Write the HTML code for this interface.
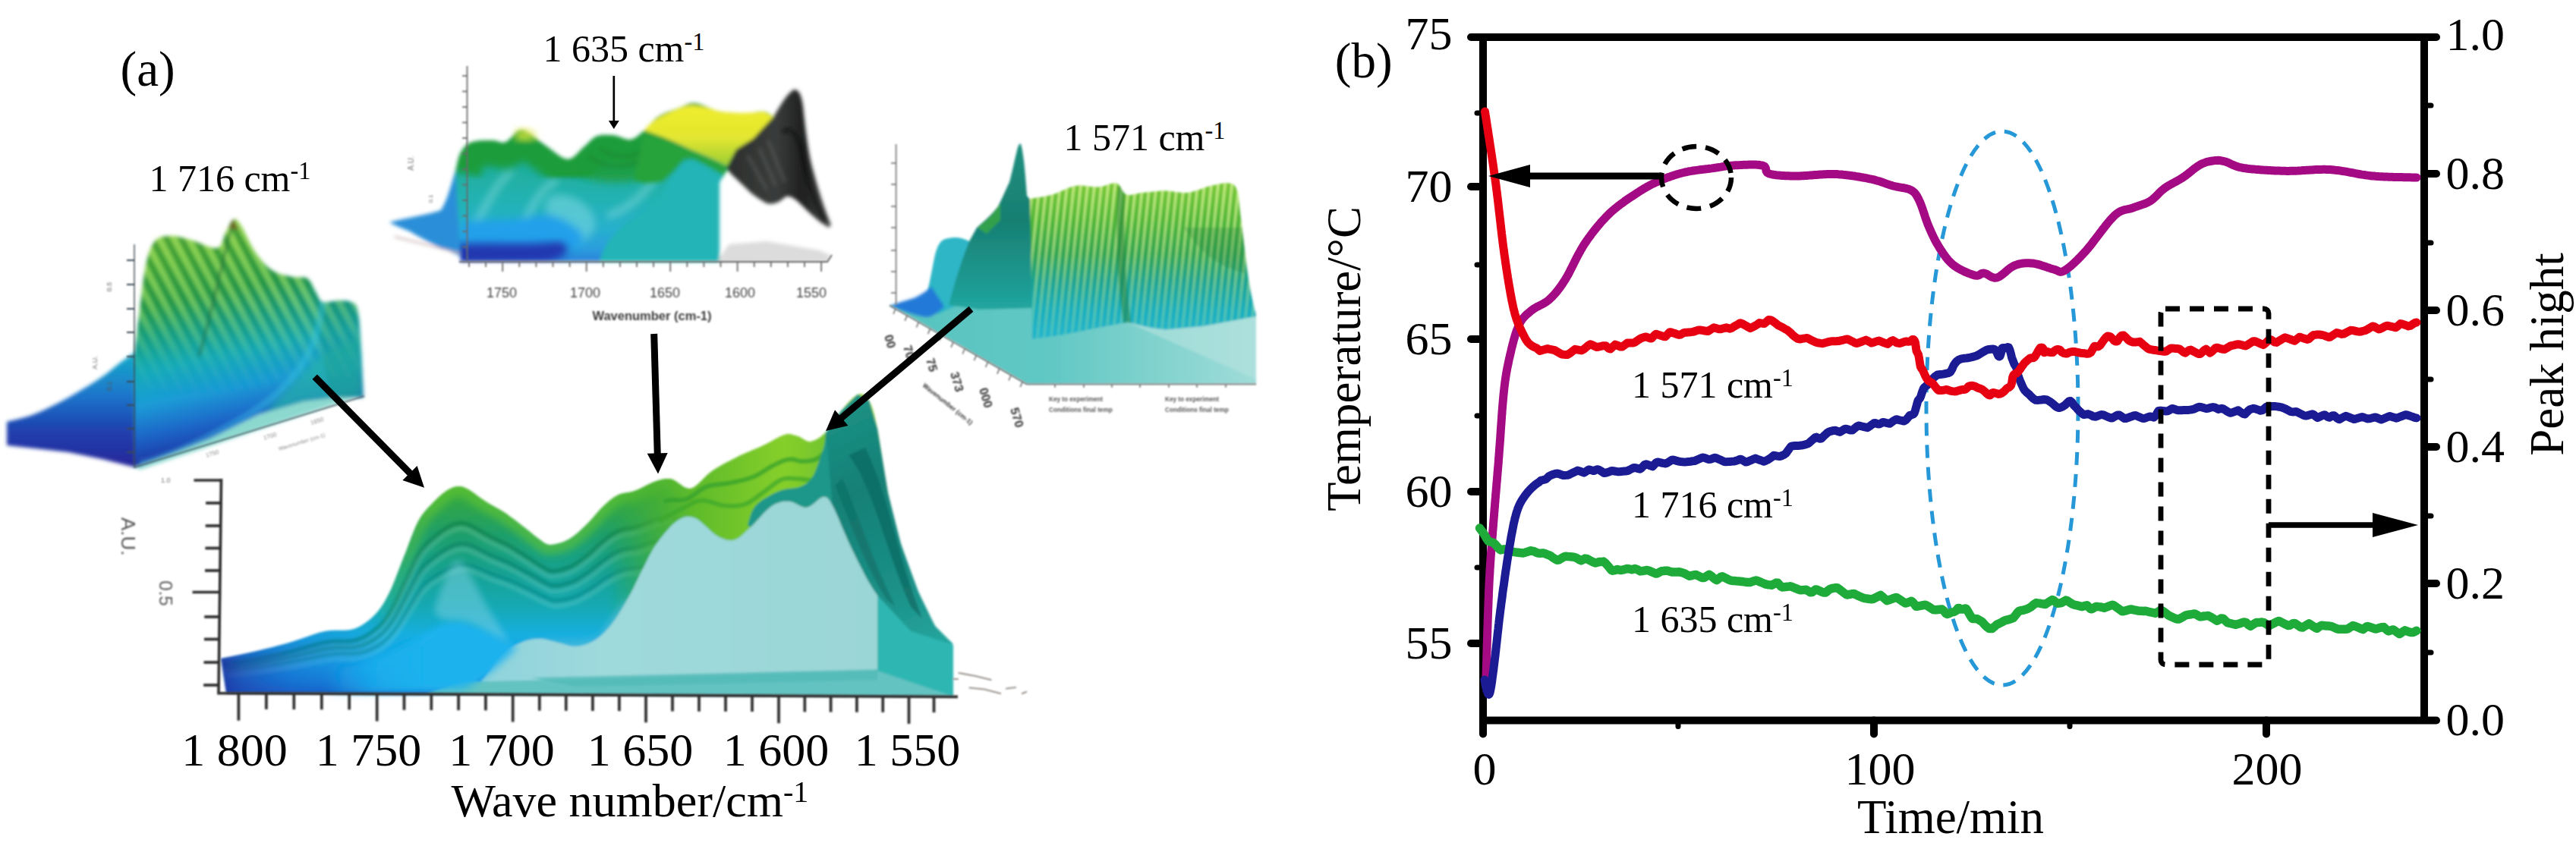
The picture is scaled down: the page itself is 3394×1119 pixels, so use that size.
<!DOCTYPE html>
<html lang="en"><head><meta charset="utf-8"><title>Figure</title>
<style>
html,body{margin:0;padding:0;background:#fff;}
body{width:3394px;height:1119px;overflow:hidden;}
svg{display:block;}
text{font-family:"Liberation Serif", "DejaVu Serif", serif;fill:#000;}
</style></head><body>
<svg width="3394" height="1119" viewBox="0 0 3394 1119">
<defs>
<filter id="bl1" x="-5%" y="-5%" width="110%" height="110%"><feGaussianBlur stdDeviation="1.6"/></filter>
<filter id="bl2" x="-5%" y="-5%" width="110%" height="110%"><feGaussianBlur stdDeviation="2.4"/></filter>
<filter id="bl3" x="-10%" y="-10%" width="120%" height="120%"><feGaussianBlur stdDeviation="5"/></filter>
<filter id="bl8" x="-20%" y="-20%" width="140%" height="140%"><feGaussianBlur stdDeviation="9"/></filter>
<filter id="blt" x="-10%" y="-30%" width="120%" height="160%"><feGaussianBlur stdDeviation="0.9"/></filter>
<linearGradient id="g4" x1="0" y1="560" x2="0" y2="915" gradientUnits="userSpaceOnUse"><stop offset="0.0" stop-color="#8fd12c"/><stop offset="0.12" stop-color="#5dbb2c"/><stop offset="0.24" stop-color="#38a93a"/><stop offset="0.4" stop-color="#1f9f68"/><stop offset="0.55" stop-color="#14a293"/><stop offset="0.68" stop-color="#13a9b5"/><stop offset="0.78" stop-color="#14aee0"/><stop offset="0.88" stop-color="#10a0e6"/><stop offset="0.95" stop-color="#1482da"/><stop offset="1.0" stop-color="#1a62c8"/></linearGradient>
<linearGradient id="g4b" x1="800" y1="0" x2="1110" y2="0" gradientUnits="userSpaceOnUse"><stop offset="0" stop-color="#3aa935" stop-opacity="0"/><stop offset="0.18" stop-color="#48b030" stop-opacity="0.6"/><stop offset="0.35" stop-color="#5cba2c" stop-opacity="1"/><stop offset="0.75" stop-color="#86cf2a" stop-opacity="1"/><stop offset="1" stop-color="#6cc030" stop-opacity="1"/></linearGradient>
<linearGradient id="g4left" x1="288" y1="0" x2="500" y2="0" gradientUnits="userSpaceOnUse"><stop offset="0" stop-color="#1f2f9e" stop-opacity="0.9"/><stop offset="0.15" stop-color="#1f3aa8" stop-opacity="0.6"/><stop offset="0.45" stop-color="#1d50c0" stop-opacity="0.3"/><stop offset="1" stop-color="#1d6fd0" stop-opacity="0"/></linearGradient>
<linearGradient id="g4cy" x1="430" y1="0" x2="570" y2="0" gradientUnits="userSpaceOnUse"><stop offset="0" stop-color="#1cb2ee" stop-opacity="0"/><stop offset="0.5" stop-color="#1cb2ee" stop-opacity="0.6"/><stop offset="1" stop-color="#1cb2ee" stop-opacity="1"/></linearGradient>
<linearGradient id="g4hl" x1="490" y1="0" x2="570" y2="0" gradientUnits="userSpaceOnUse"><stop offset="0" stop-color="#66c92e" stop-opacity="0"/><stop offset="1" stop-color="#66c92e" stop-opacity="1"/></linearGradient>
<linearGradient id="g4wall" x1="640" y1="0" x2="1160" y2="0" gradientUnits="userSpaceOnUse"><stop offset="0" stop-color="#8fd3dc"/><stop offset="0.3" stop-color="#9ed9dc"/><stop offset="1" stop-color="#9bd6d6"/></linearGradient>
<linearGradient id="g4dark" x1="1090" y1="520" x2="1250" y2="860" gradientUnits="userSpaceOnUse"><stop offset="0" stop-color="#1c9486"/><stop offset="0.35" stop-color="#158076"/><stop offset="0.7" stop-color="#1a8f86"/><stop offset="1" stop-color="#26a8a0"/></linearGradient>
<linearGradient id="g1" x1="150" y1="300" x2="215" y2="616" gradientUnits="userSpaceOnUse"><stop offset="0.0" stop-color="#6dbd38"/><stop offset="0.18" stop-color="#4db33a"/><stop offset="0.34" stop-color="#2aa44e"/><stop offset="0.47" stop-color="#17a58c"/><stop offset="0.6" stop-color="#16acbc"/><stop offset="0.74" stop-color="#1a9ad6"/><stop offset="0.86" stop-color="#1c66c8"/><stop offset="0.95" stop-color="#2040ac"/><stop offset="1.0" stop-color="#22309c"/></linearGradient>
<linearGradient id="g1tail" x1="0" y1="470" x2="0" y2="610" gradientUnits="userSpaceOnUse"><stop offset="0" stop-color="#18a7c9"/><stop offset="0.35" stop-color="#1b78cc"/><stop offset="0.7" stop-color="#2040ae"/><stop offset="1" stop-color="#262a9c"/></linearGradient>
<pattern id="st1" width="17" height="17" patternUnits="userSpaceOnUse" patternTransform="rotate(-28)"><rect x="0" y="0" width="7" height="17" fill="#b9e86a" fill-opacity="0.6"/><rect x="9" y="0" width="6" height="17" fill="#146a34" fill-opacity="0.35"/></pattern>
<linearGradient id="m1" x1="0" y1="300" x2="0" y2="520" gradientUnits="userSpaceOnUse"><stop offset="0" stop-color="#fff" stop-opacity="1"/><stop offset="0.45" stop-color="#fff" stop-opacity="0.8"/><stop offset="0.8" stop-color="#fff" stop-opacity="0.15"/><stop offset="1" stop-color="#fff" stop-opacity="0"/></linearGradient>
<mask id="mk1" maskUnits="userSpaceOnUse" x="150" y="280" width="350" height="350"><rect x="150" y="280" width="350" height="350" fill="url(#m1)"/></mask>
<linearGradient id="g2" x1="0" y1="170" x2="0" y2="345" gradientUnits="userSpaceOnUse"><stop offset="0.0" stop-color="#1fa58a"/><stop offset="0.3" stop-color="#1fae9e"/><stop offset="0.55" stop-color="#22b2b4"/><stop offset="0.75" stop-color="#27b0cc"/><stop offset="0.9" stop-color="#2a9ede"/><stop offset="1.0" stop-color="#2a80d8"/></linearGradient>
<linearGradient id="g2dark" x1="950" y1="0" x2="1095" y2="0" gradientUnits="userSpaceOnUse"><stop offset="0" stop-color="#2b2e2c"/><stop offset="0.5" stop-color="#3a3c3b"/><stop offset="0.75" stop-color="#1e1f1f"/><stop offset="1" stop-color="#4a4c4b"/></linearGradient>
<linearGradient id="g2y" x1="0" y1="130" x2="0" y2="225" gradientUnits="userSpaceOnUse"><stop offset="0" stop-color="#f1ee2c"/><stop offset="0.55" stop-color="#e3e630"/><stop offset="1" stop-color="#8cc834"/></linearGradient>
<linearGradient id="g3" x1="0" y1="240" x2="0" y2="450" gradientUnits="userSpaceOnUse"><stop offset="0.0" stop-color="#78c832"/><stop offset="0.25" stop-color="#4bb436"/><stop offset="0.45" stop-color="#2ca352"/><stop offset="0.62" stop-color="#18a391"/><stop offset="0.8" stop-color="#16adbd"/><stop offset="1.0" stop-color="#22b6d0"/></linearGradient>
<pattern id="st3" width="9" height="9" patternUnits="userSpaceOnUse" patternTransform="rotate(6)"><rect x="0" y="0" width="3.4" height="9" fill="#dcf79a" fill-opacity="0.8"/></pattern>
<linearGradient id="m3" x1="0" y1="240" x2="0" y2="450" gradientUnits="userSpaceOnUse"><stop offset="0" stop-color="#fff" stop-opacity="1"/><stop offset="0.4" stop-color="#fff" stop-opacity="0.75"/><stop offset="0.75" stop-color="#fff" stop-opacity="0.45"/><stop offset="1" stop-color="#fff" stop-opacity="0.25"/></linearGradient>
<mask id="mk3" maskUnits="userSpaceOnUse" x="1340" y="220" width="330" height="240"><rect x="1340" y="220" width="330" height="240" fill="url(#m3)"/></mask>
<linearGradient id="g3floor" x1="1170" y1="0" x2="1655" y2="0" gradientUnits="userSpaceOnUse"><stop offset="0" stop-color="#55c3bf"/><stop offset="0.45" stop-color="#62c8c4"/><stop offset="1" stop-color="#9fdcd8"/></linearGradient>
<linearGradient id="g3dk" x1="0" y1="190" x2="0" y2="440" gradientUnits="userSpaceOnUse"><stop offset="0" stop-color="#1d8f7e"/><stop offset="0.4" stop-color="#187f72"/><stop offset="0.8" stop-color="#1d9f98"/><stop offset="1" stop-color="#2ab3b0"/></linearGradient>
</defs>
<g id="panelA">
<g filter="url(#bl1)">
<path d="M291.0 868.0 L295.6 867.1 L302.0 865.8 L309.6 864.2 L317.8 862.6 L326.1 860.8 L334.0 859.0 L341.6 857.2 L349.4 855.3 L357.2 853.4 L365.2 851.3 L373.1 849.2 L381.0 847.0 L388.9 844.5 L397.0 841.8 L405.1 838.9 L413.0 836.2 L420.7 833.8 L428.0 832.0 L435.0 831.0 L441.7 830.7 L448.2 830.8 L454.4 830.7 L460.3 830.3 L466.0 829.0 L471.3 826.9 L476.4 824.2 L481.2 821.1 L485.7 817.7 L490.0 813.9 L494.0 810.0 L497.7 806.0 L501.0 801.7 L504.1 797.2 L507.0 792.4 L509.9 787.0 L513.0 781.0 L516.2 774.2 L519.3 766.7 L522.5 758.6 L525.7 750.3 L528.8 742.0 L532.0 734.0 L535.2 725.9 L538.3 717.5 L541.5 709.1 L544.7 701.0 L547.8 693.5 L551.0 687.0 L554.2 681.6 L557.4 677.0 L560.6 673.1 L563.7 669.6 L566.9 666.3 L570.0 663.0 L573.1 659.8 L576.2 656.7 L579.2 653.9 L582.3 651.3 L585.2 649.0 L588.0 647.0 L590.7 645.3 L593.3 643.9 L595.8 642.8 L598.2 641.9 L600.6 641.3 L603.0 641.0 L605.3 640.9 L607.4 641.1 L609.5 641.6 L611.7 642.4 L614.2 643.5 L617.0 645.0 L620.3 647.0 L624.0 649.5 L627.9 652.4 L631.9 655.4 L636.0 658.3 L640.0 661.0 L644.0 663.4 L648.0 665.7 L652.0 667.9 L656.0 670.2 L660.0 672.5 L664.0 675.0 L667.9 677.6 L671.7 680.4 L675.5 683.2 L679.3 686.1 L683.1 689.0 L687.0 692.0 L691.1 695.2 L695.3 698.6 L699.6 702.1 L703.7 705.5 L707.6 708.5 L711.0 711.0 L713.8 713.0 L716.0 714.7 L718.0 716.1 L720.0 717.1 L722.2 717.8 L725.0 718.0 L728.4 717.8 L732.3 717.1 L736.4 716.1 L740.7 714.7 L744.9 713.0 L749.0 711.0 L752.9 708.6 L756.7 705.8 L760.5 702.7 L764.3 699.3 L768.1 695.7 L772.0 692.0 L776.0 687.9 L780.1 683.4 L784.2 678.7 L788.3 674.0 L792.3 669.7 L796.0 666.0 L799.4 662.9 L802.6 660.1 L805.7 657.7 L808.7 655.6 L811.8 653.7 L815.0 652.0 L818.3 650.7 L821.6 650.0 L824.9 649.4 L828.3 648.9 L832.0 648.2 L836.0 647.0 L840.5 645.2 L845.4 642.9 L850.6 640.3 L855.7 637.8 L860.6 635.6 L865.0 634.0 L868.8 632.8 L872.1 631.9 L875.2 631.2 L878.3 630.9 L881.5 631.0 L885.0 631.6 L888.8 633.2 L892.9 635.9 L897.0 639.1 L901.3 641.9 L905.6 643.8 L910.0 644.0 L914.4 642.2 L918.9 638.8 L923.4 634.5 L928.1 629.7 L933.0 625.0 L938.0 621.0 L943.3 617.6 L948.9 614.2 L954.6 611.0 L960.4 607.9 L966.3 604.9 L972.0 602.0 L977.7 599.3 L983.6 596.7 L989.4 594.2 L995.1 591.8 L1000.7 589.4 L1006.0 587.0 L1011.1 584.4 L1016.2 581.7 L1021.1 578.9 L1025.7 576.4 L1030.0 574.4 L1034.0 573.0 L1037.5 572.3 L1040.5 572.3 L1043.2 572.7 L1045.7 573.4 L1048.3 574.2 L1051.0 575.0 L1053.8 576.1 L1056.6 577.7 L1059.3 579.4 L1062.1 580.9 L1065.0 581.9 L1068.0 582.0 L1071.2 581.3 L1074.4 580.0 L1077.8 578.2 L1081.2 575.9 L1084.6 573.1 L1088.0 570.0 L1091.3 566.2 L1094.6 561.6 L1097.9 556.6 L1101.2 551.5 L1104.6 546.5 L1108.0 542.0 L1111.6 537.6 L1115.4 533.1 L1119.3 528.8 L1123.1 524.9 L1126.7 521.9 L1130.0 520.0 L1133.0 519.3 L1135.7 519.4 L1138.2 520.3 L1140.6 522.1 L1142.8 524.6 L1145.0 528.0 L1147.0 531.9 L1148.9 536.4 L1150.6 541.7 L1152.3 548.0 L1154.0 555.7 L1156.0 565.0 L1158.1 576.6 L1160.3 590.4 L1162.6 605.6 L1165.0 621.2 L1167.5 636.3 L1170.0 650.0 L1172.6 662.3 L1175.2 673.8 L1177.9 684.9 L1180.8 695.6 L1183.8 706.3 L1187.0 717.0 L1190.5 727.9 L1194.3 739.0 L1198.2 749.9 L1202.2 760.5 L1206.2 770.6 L1210.0 780.0 L1213.7 788.8 L1217.4 797.1 L1221.0 805.0 L1224.6 812.3 L1228.3 819.0 L1232.0 825.0 L1236.0 830.4 L1240.4 835.1 L1244.9 839.3 L1249.0 842.9 L1252.5 845.8 L1255.0 848.0 L1256 918 L298 913.5 Z" fill="url(#g4)"/>
<clipPath id="cp4b"><path d="M291.0 868.0 L295.6 867.1 L302.0 865.8 L309.6 864.2 L317.8 862.6 L326.1 860.8 L334.0 859.0 L341.6 857.2 L349.4 855.3 L357.2 853.4 L365.2 851.3 L373.1 849.2 L381.0 847.0 L388.9 844.5 L397.0 841.8 L405.1 838.9 L413.0 836.2 L420.7 833.8 L428.0 832.0 L435.0 831.0 L441.7 830.7 L448.2 830.8 L454.4 830.7 L460.3 830.3 L466.0 829.0 L471.3 826.9 L476.4 824.2 L481.2 821.1 L485.7 817.7 L490.0 813.9 L494.0 810.0 L497.7 806.0 L501.0 801.7 L504.1 797.2 L507.0 792.4 L509.9 787.0 L513.0 781.0 L516.2 774.2 L519.3 766.7 L522.5 758.6 L525.7 750.3 L528.8 742.0 L532.0 734.0 L535.2 725.9 L538.3 717.5 L541.5 709.1 L544.7 701.0 L547.8 693.5 L551.0 687.0 L554.2 681.6 L557.4 677.0 L560.6 673.1 L563.7 669.6 L566.9 666.3 L570.0 663.0 L573.1 659.8 L576.2 656.7 L579.2 653.9 L582.3 651.3 L585.2 649.0 L588.0 647.0 L590.7 645.3 L593.3 643.9 L595.8 642.8 L598.2 641.9 L600.6 641.3 L603.0 641.0 L605.3 640.9 L607.4 641.1 L609.5 641.6 L611.7 642.4 L614.2 643.5 L617.0 645.0 L620.3 647.0 L624.0 649.5 L627.9 652.4 L631.9 655.4 L636.0 658.3 L640.0 661.0 L644.0 663.4 L648.0 665.7 L652.0 667.9 L656.0 670.2 L660.0 672.5 L664.0 675.0 L667.9 677.6 L671.7 680.4 L675.5 683.2 L679.3 686.1 L683.1 689.0 L687.0 692.0 L691.1 695.2 L695.3 698.6 L699.6 702.1 L703.7 705.5 L707.6 708.5 L711.0 711.0 L713.8 713.0 L716.0 714.7 L718.0 716.1 L720.0 717.1 L722.2 717.8 L725.0 718.0 L728.4 717.8 L732.3 717.1 L736.4 716.1 L740.7 714.7 L744.9 713.0 L749.0 711.0 L752.9 708.6 L756.7 705.8 L760.5 702.7 L764.3 699.3 L768.1 695.7 L772.0 692.0 L776.0 687.9 L780.1 683.4 L784.2 678.7 L788.3 674.0 L792.3 669.7 L796.0 666.0 L799.4 662.9 L802.6 660.1 L805.7 657.7 L808.7 655.6 L811.8 653.7 L815.0 652.0 L818.3 650.7 L821.6 650.0 L824.9 649.4 L828.3 648.9 L832.0 648.2 L836.0 647.0 L840.5 645.2 L845.4 642.9 L850.6 640.3 L855.7 637.8 L860.6 635.6 L865.0 634.0 L868.8 632.8 L872.1 631.9 L875.2 631.2 L878.3 630.9 L881.5 631.0 L885.0 631.6 L888.8 633.2 L892.9 635.9 L897.0 639.1 L901.3 641.9 L905.6 643.8 L910.0 644.0 L914.4 642.2 L918.9 638.8 L923.4 634.5 L928.1 629.7 L933.0 625.0 L938.0 621.0 L943.3 617.6 L948.9 614.2 L954.6 611.0 L960.4 607.9 L966.3 604.9 L972.0 602.0 L977.7 599.3 L983.6 596.7 L989.4 594.2 L995.1 591.8 L1000.7 589.4 L1006.0 587.0 L1011.1 584.4 L1016.2 581.7 L1021.1 578.9 L1025.7 576.4 L1030.0 574.4 L1034.0 573.0 L1037.5 572.3 L1040.5 572.3 L1043.2 572.7 L1045.7 573.4 L1048.3 574.2 L1051.0 575.0 L1053.8 576.1 L1056.6 577.7 L1059.3 579.4 L1062.1 580.9 L1065.0 581.9 L1068.0 582.0 L1071.2 581.3 L1074.4 580.0 L1077.8 578.2 L1081.2 575.9 L1084.6 573.1 L1088.0 570.0 L1091.3 566.2 L1094.6 561.6 L1097.9 556.6 L1101.2 551.5 L1104.6 546.5 L1108.0 542.0 L1111.6 537.6 L1115.4 533.1 L1119.3 528.8 L1123.1 524.9 L1126.7 521.9 L1130.0 520.0 L1133.0 519.3 L1135.7 519.4 L1138.2 520.3 L1140.6 522.1 L1142.8 524.6 L1145.0 528.0 L1147.0 531.9 L1148.9 536.4 L1150.6 541.7 L1152.3 548.0 L1154.0 555.7 L1156.0 565.0 L1158.1 576.6 L1160.3 590.4 L1162.6 605.6 L1165.0 621.2 L1167.5 636.3 L1170.0 650.0 L1172.6 662.3 L1175.2 673.8 L1177.9 684.9 L1180.8 695.6 L1183.8 706.3 L1187.0 717.0 L1190.5 727.9 L1194.3 739.0 L1198.2 749.9 L1202.2 760.5 L1206.2 770.6 L1210.0 780.0 L1213.7 788.8 L1217.4 797.1 L1221.0 805.0 L1224.6 812.3 L1228.3 819.0 L1232.0 825.0 L1236.0 830.4 L1240.4 835.1 L1244.9 839.3 L1249.0 842.9 L1252.5 845.8 L1255.0 848.0 L1256 918 L298 913.5 Z"/></clipPath>
<g clip-path="url(#cp4b)">
<path d="M494.0 810.0 L496.1 807.1 L498.9 803.1 L502.3 798.4 L506.0 793.1 L509.6 787.2 L513.0 781.0 L516.2 774.2 L519.3 766.7 L522.5 758.6 L525.7 750.3 L528.8 742.0 L532.0 734.0 L535.2 725.9 L538.3 717.5 L541.5 709.1 L544.7 701.0 L547.8 693.5 L551.0 687.0 L554.2 681.6 L557.4 677.0 L560.6 673.1 L563.7 669.6 L566.9 666.3 L570.0 663.0 L573.1 659.8 L576.2 656.7 L579.2 653.9 L582.3 651.3 L585.2 649.0 L588.0 647.0 L590.7 645.3 L593.3 643.9 L595.8 642.8 L598.2 641.9 L600.6 641.3 L603.0 641.0 L605.3 640.9 L607.4 641.1 L609.5 641.6 L611.7 642.4 L614.2 643.5 L617.0 645.0 L620.3 647.0 L624.0 649.5 L627.9 652.4 L631.9 655.4 L636.0 658.3 L640.0 661.0 L644.0 663.4 L648.0 665.7 L652.0 667.9 L656.0 670.2 L660.0 672.5 L664.0 675.0 L667.9 677.6 L671.7 680.4 L675.5 683.2 L679.3 686.1 L683.1 689.0 L687.0 692.0 L691.1 695.2 L695.3 698.6 L699.6 702.1 L703.7 705.5 L707.6 708.5 L711.0 711.0 L713.8 713.0 L716.0 714.7 L718.0 716.1 L720.0 717.1 L722.2 717.8 L725.0 718.0 L728.4 717.8 L732.3 717.1 L736.4 716.1 L740.7 714.7 L744.9 713.0 L749.0 711.0 L752.9 708.6 L756.7 705.8 L760.5 702.7 L764.3 699.3 L768.1 695.7 L772.0 692.0 L776.0 687.9 L780.1 683.4 L784.2 678.7 L788.3 674.0 L792.3 669.7 L796.0 666.0 L799.4 662.9 L802.6 660.1 L805.7 657.7 L808.7 655.6 L811.8 653.7 L815.0 652.0 L818.3 650.7 L821.6 650.0 L824.9 649.4 L828.3 648.9 L832.0 648.2 L836.0 647.0 L840.5 645.2 L845.4 642.9 L850.6 640.3 L855.7 637.8 L860.6 635.6 L865.0 634.0 L868.8 632.8 L872.1 631.9 L875.2 631.2 L878.3 630.9 L881.5 631.0 L885.0 631.6 L888.8 633.2 L892.9 635.9 L897.0 639.1 L901.3 641.9 L905.6 643.8 L910.0 644.0 L914.4 642.2 L918.9 638.8 L923.4 634.5 L928.1 629.7 L933.0 625.0 L938.0 621.0 L943.3 617.6 L948.9 614.2 L954.6 611.0 L960.4 607.9 L966.3 604.9 L972.0 602.0 L977.7 599.3 L983.6 596.7 L989.4 594.2 L995.1 591.8 L1000.7 589.4 L1006.0 587.0 L1011.1 584.4 L1016.2 581.7 L1021.1 578.9 L1025.7 576.4 L1030.0 574.4 L1034.0 573.0 L1037.5 572.3 L1040.5 572.3 L1043.2 572.7 L1045.7 573.4 L1048.3 574.2 L1051.0 575.0 L1053.8 576.1 L1056.6 577.7 L1059.3 579.4 L1062.1 580.9 L1065.0 581.9 L1068.0 582.0 L1071.4 581.0 L1075.2 579.0 L1079.1 576.4 L1082.7 573.8 L1085.8 571.5 L1088.0 570.0" fill="none" stroke="url(#g4hl)" stroke-opacity="0.55" stroke-width="26" filter="url(#bl3)"/>
<path d="M294.0 875.9 L298.6 875.1 L305.0 874.1 L312.6 872.8 L320.8 871.5 L329.1 870.0 L337.0 868.5 L344.6 867.1 L352.4 865.5 L360.2 863.9 L368.2 862.3 L376.1 860.5 L384.0 858.7 L391.9 856.7 L400.0 854.4 L408.1 852.1 L416.0 849.9 L423.7 847.9 L431.0 846.4 L438.0 845.6 L444.7 845.3 L451.2 845.4 L457.4 845.4 L463.3 845.0 L469.0 843.9 L474.3 842.2 L479.4 840.0 L484.2 837.5 L488.7 834.6 L493.0 831.6 L497.0 828.4 L500.7 825.0 L504.0 821.6 L507.1 817.9 L510.0 813.9 L512.9 809.5 L516.0 804.6 L519.2 799.0 L522.3 792.8 L525.5 786.2 L528.7 779.4 L531.8 772.6 L535.0 766.0 L538.2 759.4 L541.3 752.5 L544.5 745.6 L547.7 738.9 L550.8 732.8 L554.0 727.5 L557.2 723.1 L560.4 719.3 L563.6 716.1 L566.7 713.2 L569.9 710.5 L573.0 707.8 L576.1 705.2 L579.2 702.7 L582.2 700.3 L585.3 698.2 L588.2 696.3 L591.0 694.7 L593.7 693.3 L596.3 692.1 L598.8 691.2 L601.2 690.5 L603.6 690.0 L606.0 689.8 L608.3 689.7 L610.4 689.9 L612.5 690.3 L614.7 690.9 L617.2 691.8 L620.0 693.1 L623.3 694.7 L627.0 696.8 L630.9 699.1 L634.9 701.6 L639.0 704.0 L643.0 706.2 L647.0 708.2 L651.0 710.0 L655.0 711.9 L659.0 713.7 L663.0 715.6 L667.0 717.7 L670.9 719.8 L674.7 722.1 L678.5 724.4 L682.3 726.7 L686.1 729.2 L690.0 731.6 L694.1 734.2 L698.3 737.0 L702.6 739.9 L706.7 742.7 L710.6 745.1 L714.0 747.2 L716.8 748.8 L719.0 750.2 L721.0 751.4 L723.0 752.2 L725.2 752.7 L728.0 752.9 L731.4 752.7 L735.3 752.2 L739.4 751.4 L743.7 750.2 L747.9 748.8 L752.0 747.2 L755.9 745.2 L759.7 742.9 L763.5 740.4 L767.3 737.6 L771.1 734.6 L775.0 731.6 L779.0 728.3 L783.1 724.6 L787.2 720.7 L791.3 716.9 L795.3 713.3 L799.0 710.3 L802.4 707.7 L805.6 705.5 L808.7 703.5 L811.7 701.7 L814.8 700.2 L818.0 698.8 L821.3 697.8 L824.6 697.1 L827.9 696.7 L831.3 696.3 L835.0 695.7 L839.0 694.7 L843.5 693.2 L848.4 691.3 L853.6 689.2 L858.7 687.2 L863.6 685.4 L868.0 684.0 L871.8 683.1 L875.1 682.3 L878.2 681.8 L881.3 681.5 L884.5 681.6 L888.0 682.1 L891.8 683.4 L895.9 685.6 L900.0 688.2 L904.3 690.6 L908.6 692.1 L913.0 692.2 L917.4 690.7 L921.9 688.0 L926.4 684.4 L931.1 680.5 L936.0 676.7 L941.0 673.4 L946.3 670.6 L951.9 667.8 L957.6 665.2 L963.4 662.6 L969.3 660.2 L975.0 657.8 L980.7 655.6 L986.6 653.4 L992.4 651.4 L998.1 649.4 L1003.7 647.5 L1009.0 645.5 L1014.1 643.4 L1019.2 641.1 L1024.1 638.9 L1028.7 636.8 L1033.0 635.2 L1037.0 634.0 L1040.5 633.5 L1043.5 633.4 L1046.2 633.8 L1048.7 634.3 L1051.3 635.0 L1054.0 635.7 L1056.8 636.6 L1059.6 637.8 L1062.3 639.2 L1065.1 640.5 L1068.0 641.3 L1071.0 641.4 L1074.4 640.5 L1078.2 638.9 L1082.1 636.8 L1085.7 634.7 L1088.8 632.8 L1091.0 631.6" fill="none" stroke="#0b6a3c" stroke-opacity="0.42" stroke-width="6.0" filter="url(#bl1)"/>
<path d="M294.0 882.9 L298.6 882.1 L305.0 881.1 L312.6 879.8 L320.8 878.5 L329.1 877.0 L337.0 875.5 L344.6 874.1 L352.4 872.5 L360.2 870.9 L368.2 869.3 L376.1 867.5 L384.0 865.7 L391.9 863.7 L400.0 861.4 L408.1 859.1 L416.0 856.9 L423.7 854.9 L431.0 853.4 L438.0 852.6 L444.7 852.3 L451.2 852.4 L457.4 852.4 L463.3 852.0 L469.0 850.9 L474.3 849.2 L479.4 847.0 L484.2 844.5 L488.7 841.6 L493.0 838.6 L497.0 835.4 L500.7 832.0 L504.0 828.6 L507.1 824.9 L510.0 820.9 L512.9 816.5 L516.0 811.6 L519.2 806.0 L522.3 799.8 L525.5 793.2 L528.7 786.4 L531.8 779.6 L535.0 773.0 L538.2 766.4 L541.3 759.5 L544.5 752.6 L547.7 745.9 L550.8 739.8 L554.0 734.5 L557.2 730.1 L560.4 726.3 L563.6 723.1 L566.7 720.2 L569.9 717.5 L573.0 714.8 L576.1 712.2 L579.2 709.7 L582.2 707.3 L585.3 705.2 L588.2 703.3 L591.0 701.7 L593.7 700.3 L596.3 699.1 L598.8 698.2 L601.2 697.5 L603.6 697.0 L606.0 696.8 L608.3 696.7 L610.4 696.9 L612.5 697.3 L614.7 697.9 L617.2 698.8 L620.0 700.1 L623.3 701.7 L627.0 703.8 L630.9 706.1 L634.9 708.6 L639.0 711.0 L643.0 713.2 L647.0 715.2 L651.0 717.0 L655.0 718.9 L659.0 720.7 L663.0 722.6 L667.0 724.7 L670.9 726.8 L674.7 729.1 L678.5 731.4 L682.3 733.7 L686.1 736.2 L690.0 738.6 L694.1 741.2 L698.3 744.0 L702.6 746.9 L706.7 749.7 L710.6 752.1 L714.0 754.2 L716.8 755.8 L719.0 757.2 L721.0 758.4 L723.0 759.2 L725.2 759.7 L728.0 759.9 L731.4 759.7 L735.3 759.2 L739.4 758.4 L743.7 757.2 L747.9 755.8 L752.0 754.2 L755.9 752.2 L759.7 749.9 L763.5 747.4 L767.3 744.6 L771.1 741.6 L775.0 738.6 L779.0 735.3 L783.1 731.6 L787.2 727.7 L791.3 723.9 L795.3 720.3 L799.0 717.3 L802.4 714.7 L805.6 712.5 L808.7 710.5 L811.7 708.7 L814.8 707.2 L818.0 705.8 L821.3 704.8 L824.6 704.1 L827.9 703.7 L831.3 703.3 L835.0 702.7 L839.0 701.7 L843.5 700.2 L848.4 698.3 L853.6 696.2 L858.7 694.2 L863.6 692.4 L868.0 691.0 L871.8 690.1 L875.1 689.3 L878.2 688.8 L881.3 688.5 L884.5 688.6 L888.0 689.1 L891.8 690.4 L895.9 692.6 L900.0 695.2 L904.3 697.6 L908.6 699.1 L913.0 699.2 L917.4 697.7 L921.9 695.0 L926.4 691.4 L931.1 687.5 L936.0 683.7 L941.0 680.4 L946.3 677.6 L951.9 674.8 L957.6 672.2 L963.4 669.6 L969.3 667.2 L975.0 664.8 L980.7 662.6 L986.6 660.4 L992.4 658.4 L998.1 656.4 L1003.7 654.5 L1009.0 652.5 L1014.1 650.4 L1019.2 648.1 L1024.1 645.9 L1028.7 643.8 L1033.0 642.2 L1037.0 641.0 L1040.5 640.5 L1043.5 640.4 L1046.2 640.8 L1048.7 641.3 L1051.3 642.0 L1054.0 642.7 L1056.8 643.6 L1059.6 644.8 L1062.3 646.2 L1065.1 647.5 L1068.0 648.3 L1071.0 648.4 L1074.4 647.5 L1078.2 645.9 L1082.1 643.8 L1085.7 641.7 L1088.8 639.8 L1091.0 638.6" fill="none" stroke="#c8f4e8" stroke-opacity="0.16" stroke-width="7" filter="url(#bl1)"/>
<path d="M296.0 880.3 L300.6 879.6 L307.0 878.7 L314.6 877.6 L322.8 876.4 L331.1 875.1 L339.0 873.8 L346.6 872.6 L354.4 871.2 L362.2 869.8 L370.2 868.3 L378.1 866.8 L386.0 865.2 L393.9 863.4 L402.0 861.4 L410.1 859.4 L418.0 857.4 L425.7 855.7 L433.0 854.4 L440.0 853.7 L446.7 853.5 L453.2 853.5 L459.4 853.5 L465.3 853.2 L471.0 852.2 L476.3 850.7 L481.4 848.8 L486.2 846.6 L490.7 844.1 L495.0 841.4 L499.0 838.6 L502.7 835.6 L506.0 832.6 L509.1 829.4 L512.0 825.9 L514.9 822.0 L518.0 817.7 L521.2 812.8 L524.3 807.4 L527.5 801.6 L530.7 795.6 L533.8 789.6 L537.0 783.8 L540.2 778.0 L543.3 771.9 L546.5 765.9 L549.7 760.1 L552.8 754.7 L556.0 750.0 L559.2 746.1 L562.4 742.8 L565.6 740.0 L568.7 737.4 L571.9 735.1 L575.0 732.7 L578.1 730.4 L581.2 728.2 L584.2 726.1 L587.3 724.3 L590.2 722.6 L593.0 721.2 L595.7 720.0 L598.3 719.0 L600.8 718.1 L603.2 717.5 L605.6 717.1 L608.0 716.9 L610.3 716.8 L612.4 717.0 L614.5 717.3 L616.7 717.9 L619.2 718.7 L622.0 719.8 L625.3 721.2 L629.0 723.0 L632.9 725.1 L636.9 727.2 L641.0 729.3 L645.0 731.3 L649.0 733.0 L653.0 734.7 L657.0 736.3 L661.0 737.9 L665.0 739.6 L669.0 741.4 L672.9 743.3 L676.7 745.2 L680.5 747.3 L684.3 749.3 L688.1 751.5 L692.0 753.6 L696.1 755.9 L700.3 758.4 L704.6 760.9 L708.7 763.3 L712.6 765.5 L716.0 767.3 L718.8 768.7 L721.0 770.0 L723.0 771.0 L725.0 771.7 L727.2 772.2 L730.0 772.3 L733.4 772.2 L737.3 771.7 L741.4 771.0 L745.7 770.0 L749.9 768.7 L754.0 767.3 L757.9 765.6 L761.7 763.5 L765.5 761.3 L769.3 758.9 L773.1 756.3 L777.0 753.6 L781.0 750.7 L785.1 747.4 L789.2 744.0 L793.3 740.7 L797.3 737.6 L801.0 734.9 L804.4 732.6 L807.6 730.6 L810.7 728.9 L813.7 727.4 L816.8 726.0 L820.0 724.8 L823.3 723.9 L826.6 723.3 L829.9 723.0 L833.3 722.6 L837.0 722.1 L841.0 721.2 L845.5 719.9 L850.4 718.2 L855.6 716.4 L860.7 714.6 L865.6 713.0 L870.0 711.8 L873.8 711.0 L877.1 710.3 L880.2 709.8 L883.3 709.6 L886.5 709.7 L890.0 710.1 L893.8 711.3 L897.9 713.2 L902.0 715.5 L906.3 717.6 L910.6 718.9 L915.0 719.0 L919.4 717.7 L923.9 715.3 L928.4 712.2 L933.1 708.7 L938.0 705.4 L943.0 702.5 L948.3 700.0 L953.9 697.6 L959.6 695.3 L965.4 693.0 L971.3 690.9 L977.0 688.8 L982.7 686.8 L988.6 685.0 L994.4 683.2 L1000.1 681.4 L1005.7 679.7 L1011.0 678.0 L1016.1 676.1 L1021.2 674.2 L1026.1 672.2 L1030.7 670.4 L1035.0 668.9 L1039.0 667.9 L1042.5 667.5 L1045.5 667.4 L1048.2 667.7 L1050.7 668.2 L1053.3 668.8 L1056.0 669.4 L1058.8 670.1 L1061.6 671.3 L1064.3 672.5 L1067.1 673.6 L1070.0 674.3 L1073.0 674.4 L1076.4 673.7 L1080.2 672.2 L1084.1 670.4 L1087.7 668.5 L1090.8 666.9 L1093.0 665.8" fill="none" stroke="#0a705a" stroke-opacity="0.42" stroke-width="6.0" filter="url(#bl1)"/>
<path d="M296.0 887.3 L300.6 886.6 L307.0 885.7 L314.6 884.6 L322.8 883.4 L331.1 882.1 L339.0 880.8 L346.6 879.6 L354.4 878.2 L362.2 876.8 L370.2 875.3 L378.1 873.8 L386.0 872.2 L393.9 870.4 L402.0 868.4 L410.1 866.4 L418.0 864.4 L425.7 862.7 L433.0 861.4 L440.0 860.7 L446.7 860.5 L453.2 860.5 L459.4 860.5 L465.3 860.2 L471.0 859.2 L476.3 857.7 L481.4 855.8 L486.2 853.6 L490.7 851.1 L495.0 848.4 L499.0 845.6 L502.7 842.6 L506.0 839.6 L509.1 836.4 L512.0 832.9 L514.9 829.0 L518.0 824.7 L521.2 819.8 L524.3 814.4 L527.5 808.6 L530.7 802.6 L533.8 796.6 L537.0 790.8 L540.2 785.0 L543.3 778.9 L546.5 772.9 L549.7 767.1 L552.8 761.7 L556.0 757.0 L559.2 753.1 L562.4 749.8 L565.6 747.0 L568.7 744.4 L571.9 742.1 L575.0 739.7 L578.1 737.4 L581.2 735.2 L584.2 733.1 L587.3 731.3 L590.2 729.6 L593.0 728.2 L595.7 727.0 L598.3 726.0 L600.8 725.1 L603.2 724.5 L605.6 724.1 L608.0 723.9 L610.3 723.8 L612.4 724.0 L614.5 724.3 L616.7 724.9 L619.2 725.7 L622.0 726.8 L625.3 728.2 L629.0 730.0 L632.9 732.1 L636.9 734.2 L641.0 736.3 L645.0 738.3 L649.0 740.0 L653.0 741.7 L657.0 743.3 L661.0 744.9 L665.0 746.6 L669.0 748.4 L672.9 750.3 L676.7 752.2 L680.5 754.3 L684.3 756.3 L688.1 758.5 L692.0 760.6 L696.1 762.9 L700.3 765.4 L704.6 767.9 L708.7 770.3 L712.6 772.5 L716.0 774.3 L718.8 775.7 L721.0 777.0 L723.0 778.0 L725.0 778.7 L727.2 779.2 L730.0 779.3 L733.4 779.2 L737.3 778.7 L741.4 778.0 L745.7 777.0 L749.9 775.7 L754.0 774.3 L757.9 772.6 L761.7 770.5 L765.5 768.3 L769.3 765.9 L773.1 763.3 L777.0 760.6 L781.0 757.7 L785.1 754.4 L789.2 751.0 L793.3 747.7 L797.3 744.6 L801.0 741.9 L804.4 739.6 L807.6 737.6 L810.7 735.9 L813.7 734.4 L816.8 733.0 L820.0 731.8 L823.3 730.9 L826.6 730.3 L829.9 730.0 L833.3 729.6 L837.0 729.1 L841.0 728.2 L845.5 726.9 L850.4 725.2 L855.6 723.4 L860.7 721.6 L865.6 720.0 L870.0 718.8 L873.8 718.0 L877.1 717.3 L880.2 716.8 L883.3 716.6 L886.5 716.7 L890.0 717.1 L893.8 718.3 L897.9 720.2 L902.0 722.5 L906.3 724.6 L910.6 725.9 L915.0 726.0 L919.4 724.7 L923.9 722.3 L928.4 719.2 L933.1 715.7 L938.0 712.4 L943.0 709.5 L948.3 707.0 L953.9 704.6 L959.6 702.3 L965.4 700.0 L971.3 697.9 L977.0 695.8 L982.7 693.8 L988.6 692.0 L994.4 690.2 L1000.1 688.4 L1005.7 686.7 L1011.0 685.0 L1016.1 683.1 L1021.2 681.2 L1026.1 679.2 L1030.7 677.4 L1035.0 675.9 L1039.0 674.9 L1042.5 674.5 L1045.5 674.4 L1048.2 674.7 L1050.7 675.2 L1053.3 675.8 L1056.0 676.4 L1058.8 677.1 L1061.6 678.3 L1064.3 679.5 L1067.1 680.6 L1070.0 681.3 L1073.0 681.4 L1076.4 680.7 L1080.2 679.2 L1084.1 677.4 L1087.7 675.5 L1090.8 673.9 L1093.0 672.8" fill="none" stroke="#c8f4e8" stroke-opacity="0.16" stroke-width="7" filter="url(#bl1)"/>
<path d="M298.0 884.7 L302.6 884.1 L309.0 883.3 L316.6 882.4 L324.8 881.3 L333.1 880.2 L341.0 879.1 L348.6 878.0 L356.4 876.9 L364.2 875.7 L372.2 874.4 L380.1 873.1 L388.0 871.7 L395.9 870.2 L404.0 868.5 L412.1 866.7 L420.0 865.0 L427.7 863.5 L435.0 862.4 L442.0 861.8 L448.7 861.6 L455.2 861.6 L461.4 861.6 L467.3 861.3 L473.0 860.5 L478.3 859.2 L483.4 857.6 L488.2 855.7 L492.7 853.5 L497.0 851.2 L501.0 848.8 L504.7 846.3 L508.0 843.6 L511.1 840.9 L514.0 837.8 L516.9 834.5 L520.0 830.8 L523.2 826.6 L526.3 821.9 L529.5 816.9 L532.7 811.8 L535.8 806.6 L539.0 801.6 L542.2 796.6 L545.3 791.4 L548.5 786.2 L551.7 781.2 L554.8 776.5 L558.0 772.5 L561.2 769.1 L564.4 766.3 L567.6 763.9 L570.7 761.7 L573.9 759.6 L577.0 757.6 L580.1 755.6 L583.2 753.7 L586.2 752.0 L589.3 750.4 L592.2 748.9 L595.0 747.7 L597.7 746.6 L600.3 745.8 L602.8 745.1 L605.2 744.5 L607.6 744.2 L610.0 744.0 L612.3 743.9 L614.4 744.1 L616.5 744.4 L618.7 744.9 L621.2 745.5 L624.0 746.5 L627.3 747.7 L631.0 749.3 L634.9 751.0 L638.9 752.9 L643.0 754.7 L647.0 756.4 L651.0 757.9 L655.0 759.3 L659.0 760.7 L663.0 762.1 L667.0 763.5 L671.0 765.1 L674.9 766.7 L678.7 768.4 L682.5 770.1 L686.3 771.9 L690.1 773.8 L694.0 775.6 L698.1 777.6 L702.3 779.7 L706.6 781.9 L710.7 784.0 L714.6 785.8 L718.0 787.4 L720.8 788.6 L723.0 789.7 L725.0 790.6 L727.0 791.2 L729.2 791.6 L732.0 791.7 L735.4 791.6 L739.3 791.2 L743.4 790.6 L747.7 789.7 L751.9 788.6 L756.0 787.4 L759.9 785.9 L763.7 784.2 L767.5 782.2 L771.3 780.1 L775.1 777.9 L779.0 775.6 L783.0 773.1 L787.1 770.3 L791.2 767.3 L795.3 764.5 L799.3 761.8 L803.0 759.5 L806.4 757.5 L809.6 755.8 L812.7 754.3 L815.7 753.0 L818.8 751.8 L822.0 750.8 L825.3 750.0 L828.6 749.5 L831.9 749.2 L835.3 748.9 L839.0 748.4 L843.0 747.7 L847.5 746.6 L852.4 745.1 L857.6 743.6 L862.7 742.0 L867.6 740.7 L872.0 739.6 L875.8 738.9 L879.1 738.3 L882.2 737.9 L885.3 737.7 L888.5 737.8 L892.0 738.2 L895.8 739.2 L899.9 740.8 L904.0 742.8 L908.3 744.6 L912.6 745.7 L917.0 745.8 L921.4 744.7 L925.9 742.6 L930.4 739.9 L935.1 737.0 L940.0 734.1 L945.0 731.6 L950.3 729.4 L955.9 727.4 L961.6 725.4 L967.4 723.5 L973.3 721.6 L979.0 719.8 L984.7 718.1 L990.6 716.5 L996.4 715.0 L1002.1 713.5 L1007.7 712.0 L1013.0 710.5 L1018.1 708.9 L1023.2 707.2 L1028.1 705.5 L1032.7 704.0 L1037.0 702.7 L1041.0 701.8 L1044.5 701.4 L1047.5 701.4 L1050.2 701.6 L1052.7 702.0 L1055.3 702.6 L1058.0 703.1 L1060.8 703.7 L1063.6 704.7 L1066.3 705.8 L1069.1 706.7 L1072.0 707.3 L1075.0 707.4 L1078.4 706.8 L1082.2 705.5 L1086.1 704.0 L1089.7 702.3 L1092.8 700.9 L1095.0 700.0" fill="none" stroke="#0b7878" stroke-opacity="0.42" stroke-width="5.0" filter="url(#bl1)"/>
<path d="M298.0 891.7 L302.6 891.1 L309.0 890.3 L316.6 889.4 L324.8 888.3 L333.1 887.2 L341.0 886.1 L348.6 885.0 L356.4 883.9 L364.2 882.7 L372.2 881.4 L380.1 880.1 L388.0 878.7 L395.9 877.2 L404.0 875.5 L412.1 873.7 L420.0 872.0 L427.7 870.5 L435.0 869.4 L442.0 868.8 L448.7 868.6 L455.2 868.6 L461.4 868.6 L467.3 868.3 L473.0 867.5 L478.3 866.2 L483.4 864.6 L488.2 862.7 L492.7 860.5 L497.0 858.2 L501.0 855.8 L504.7 853.3 L508.0 850.6 L511.1 847.9 L514.0 844.8 L516.9 841.5 L520.0 837.8 L523.2 833.6 L526.3 828.9 L529.5 823.9 L532.7 818.8 L535.8 813.6 L539.0 808.6 L542.2 803.6 L545.3 798.4 L548.5 793.2 L551.7 788.2 L554.8 783.5 L558.0 779.5 L561.2 776.1 L564.4 773.3 L567.6 770.9 L570.7 768.7 L573.9 766.6 L577.0 764.6 L580.1 762.6 L583.2 760.7 L586.2 759.0 L589.3 757.4 L592.2 755.9 L595.0 754.7 L597.7 753.6 L600.3 752.8 L602.8 752.1 L605.2 751.5 L607.6 751.2 L610.0 751.0 L612.3 750.9 L614.4 751.1 L616.5 751.4 L618.7 751.9 L621.2 752.5 L624.0 753.5 L627.3 754.7 L631.0 756.3 L634.9 758.0 L638.9 759.9 L643.0 761.7 L647.0 763.4 L651.0 764.9 L655.0 766.3 L659.0 767.7 L663.0 769.1 L667.0 770.5 L671.0 772.1 L674.9 773.7 L678.7 775.4 L682.5 777.1 L686.3 778.9 L690.1 780.8 L694.0 782.6 L698.1 784.6 L702.3 786.7 L706.6 788.9 L710.7 791.0 L714.6 792.8 L718.0 794.4 L720.8 795.6 L723.0 796.7 L725.0 797.6 L727.0 798.2 L729.2 798.6 L732.0 798.7 L735.4 798.6 L739.3 798.2 L743.4 797.6 L747.7 796.7 L751.9 795.6 L756.0 794.4 L759.9 792.9 L763.7 791.2 L767.5 789.2 L771.3 787.1 L775.1 784.9 L779.0 782.6 L783.0 780.1 L787.1 777.3 L791.2 774.3 L795.3 771.5 L799.3 768.8 L803.0 766.5 L806.4 764.5 L809.6 762.8 L812.7 761.3 L815.7 760.0 L818.8 758.8 L822.0 757.8 L825.3 757.0 L828.6 756.5 L831.9 756.2 L835.3 755.9 L839.0 755.4 L843.0 754.7 L847.5 753.6 L852.4 752.1 L857.6 750.6 L862.7 749.0 L867.6 747.7 L872.0 746.6 L875.8 745.9 L879.1 745.3 L882.2 744.9 L885.3 744.7 L888.5 744.8 L892.0 745.2 L895.8 746.2 L899.9 747.8 L904.0 749.8 L908.3 751.6 L912.6 752.7 L917.0 752.8 L921.4 751.7 L925.9 749.6 L930.4 746.9 L935.1 744.0 L940.0 741.1 L945.0 738.6 L950.3 736.4 L955.9 734.4 L961.6 732.4 L967.4 730.5 L973.3 728.6 L979.0 726.8 L984.7 725.1 L990.6 723.5 L996.4 722.0 L1002.1 720.5 L1007.7 719.0 L1013.0 717.5 L1018.1 715.9 L1023.2 714.2 L1028.1 712.5 L1032.7 711.0 L1037.0 709.7 L1041.0 708.8 L1044.5 708.4 L1047.5 708.4 L1050.2 708.6 L1052.7 709.0 L1055.3 709.6 L1058.0 710.1 L1060.8 710.7 L1063.6 711.7 L1066.3 712.8 L1069.1 713.7 L1072.0 714.3 L1075.0 714.4 L1078.4 713.8 L1082.2 712.5 L1086.1 711.0 L1089.7 709.3 L1092.8 707.9 L1095.0 707.0" fill="none" stroke="#c8f4e8" stroke-opacity="0.16" stroke-width="7" filter="url(#bl1)"/>
</g>
<path d="M796.0 666.0 L798.0 664.4 L800.9 662.0 L804.2 659.3 L807.8 656.5 L811.5 654.0 L815.0 652.0 L818.3 650.7 L821.6 650.0 L824.9 649.4 L828.3 648.9 L832.0 648.2 L836.0 647.0 L840.5 645.2 L845.4 642.9 L850.6 640.3 L855.7 637.8 L860.6 635.6 L865.0 634.0 L868.8 632.8 L872.1 631.9 L875.2 631.2 L878.3 630.9 L881.5 631.0 L885.0 631.6 L888.8 633.2 L892.9 635.9 L897.0 639.1 L901.3 641.9 L905.6 643.8 L910.0 644.0 L914.4 642.2 L918.9 638.8 L923.4 634.5 L928.1 629.7 L933.0 625.0 L938.0 621.0 L943.3 617.6 L948.9 614.2 L954.6 611.0 L960.4 607.9 L966.3 604.9 L972.0 602.0 L977.7 599.3 L983.6 596.7 L989.4 594.2 L995.1 591.8 L1000.7 589.4 L1006.0 587.0 L1011.1 584.4 L1016.2 581.7 L1021.1 578.9 L1025.7 576.4 L1030.0 574.4 L1034.0 573.0 L1037.5 572.3 L1040.5 572.3 L1043.2 572.7 L1045.7 573.4 L1048.3 574.2 L1051.0 575.0 L1053.8 576.1 L1056.6 577.7 L1059.3 579.4 L1062.1 580.9 L1065.0 581.9 L1068.0 582.0 L1071.2 581.3 L1074.4 580.0 L1077.8 578.2 L1081.2 575.9 L1084.6 573.1 L1088.0 570.0 L1091.3 566.2 L1094.6 561.6 L1097.9 556.6 L1101.2 551.5 L1104.6 546.5 L1108.0 542.0 L1111.8 537.7 L1116.0 533.4 L1120.2 529.2 L1124.2 525.5 L1127.6 522.3 L1130.0 520.0 L1097.0 667.0 L1095.8 665.4 L1094.3 662.9 L1092.4 660.1 L1090.2 657.5 L1087.7 655.6 L1085.0 655.0 L1081.9 656.1 L1078.4 658.6 L1074.7 661.8 L1070.8 665.0 L1066.8 667.6 L1063.0 669.0 L1059.2 668.8 L1055.4 667.4 L1051.6 665.5 L1047.7 663.4 L1043.8 661.8 L1040.0 661.0 L1036.2 660.9 L1032.5 661.1 L1028.8 661.8 L1025.0 662.9 L1021.1 664.6 L1017.0 667.0 L1012.6 670.5 L1007.8 675.1 L1002.9 680.3 L998.1 685.7 L993.4 690.7 L989.0 695.0 L985.0 698.7 L981.3 702.3 L977.7 705.6 L974.2 708.4 L970.7 710.6 L967.0 712.0 L963.3 712.5 L959.6 712.3 L955.9 711.5 L952.1 710.1 L948.1 708.2 L944.0 706.0 L939.6 702.8 L934.9 698.6 L930.0 693.9 L925.1 689.4 L920.4 685.5 L916.0 683.0 L911.9 681.7 L908.1 681.0 L904.5 681.1 L900.9 682.0 L897.1 683.6 L893.0 686.0 L888.5 689.5 L883.7 694.1 L878.8 699.5 L873.9 705.3 L869.2 711.3 L865.0 717.0 L861.3 722.6 L857.9 728.4 L854.8 734.3 L851.9 740.3 L848.9 746.2 L846.0 752.0 L843.1 757.7 L840.4 763.3 L837.8 768.8 L835.1 774.4 L832.2 780.1 L829.0 786.0 L825.4 792.3 L821.5 799.0 L817.4 805.8 L813.2 812.4 L809.0 818.6 L805.0 824.0 L800.8 828.7 L796.4 833.0 L792.0 836.9 L787.9 840.2 L784.5 842.9 L782.0 845.0 Z" fill="url(#g4b)"/>
<path d="M874.8 661.2 L878.4 659.8 L882.4 659.0 L886.6 658.8 L891.0 659.0 L895.5 659.2 L900.0 658.9 L904.4 657.9 L908.7 655.8 L912.9 653.0 L917.2 649.9 L921.5 646.6 L926.0 643.7 L930.7 641.5 L935.8 640.0 L941.1 639.0 L946.5 638.4 L952.0 637.8 L957.5 637.2 L962.8 636.3 L968.0 635.2 L973.2 634.1 L978.3 632.9 L983.4 631.6 L988.3 630.0 L993.1 628.2 L997.8 626.1 L1002.3 623.5 L1006.7 620.7 L1011.0 618.0 L1015.2 615.4 L1019.1 613.3 L1022.9 611.4 L1026.5 609.7 L1029.9 608.2 L1033.2 606.9 L1036.5 606.0 L1039.8 605.4 L1043.0 605.3 L1046.2 605.8 L1049.2 606.6 L1052.3 607.4 L1055.5 608.0 L1058.8 608.1 L1062.1 607.8 L1065.6 607.5 L1069.2 607.0 L1072.7 606.1 L1076.2 604.7 L1079.8 602.7 L1083.2 599.7 L1086.7 595.7 L1090.2 591.3 L1093.7 586.8 L1097.1 582.7 L1100.4 579.3 L1103.9 576.6 L1107.5 574.4 L1111.1 572.4 L1114.3 570.8 L1117.1 569.5 L1119.1 568.5" fill="none" stroke="#2f9e2e" stroke-opacity="0.7" stroke-width="6"/>
<path d="M869.0 687.8 L872.6 684.5 L876.7 681.6 L881.1 679.0 L885.7 676.5 L890.4 674.3 L895.0 672.1 L899.5 670.0 L903.7 667.8 L907.7 665.6 L911.7 663.4 L915.7 661.5 L919.9 660.1 L924.4 659.4 L929.1 659.7 L934.2 660.8 L939.4 662.4 L944.6 664.1 L949.7 665.6 L954.6 666.5 L959.4 666.8 L964.0 667.0 L968.6 666.9 L973.1 666.5 L977.5 665.7 L981.8 664.5 L986.0 662.7 L990.1 660.3 L994.2 657.5 L998.1 654.5 L1002.1 651.5 L1006.1 648.6 L1010.1 645.7 L1014.2 642.6 L1018.2 639.4 L1022.2 636.4 L1026.1 633.9 L1029.9 632.0 L1033.5 630.9 L1037.0 630.5 L1040.4 630.4 L1043.8 630.6 L1047.2 630.9 L1050.6 631.0 L1054.2 631.2 L1057.9 631.7 L1061.5 632.3 L1065.2 632.7 L1068.9 632.4 L1072.5 631.4 L1076.1 629.1 L1079.8 625.7 L1083.5 621.8 L1087.1 617.9 L1090.5 614.4 L1093.7 612.1 L1096.9 610.8 L1100.0 610.4 L1103.0 610.4 L1105.6 610.7 L1107.9 611.0 L1109.5 611.1" fill="none" stroke="#3aa62c" stroke-opacity="0.7" stroke-width="6"/>
<path d="M1088.0 570.0 L1108.0 542.0 L1130.0 520.0 L1145.0 528.0 L1156.0 565.0 L1170.0 650.0 L1187.0 717.0 L1210.0 780.0 L1232.0 825.0 L1255.0 848.0 L1255.0 870.0 L1200.0 840.0 L1156.0 785.0 L1142.0 763.0 L1119.0 717.0 L1097.0 667.0 L1085.0 655.0 L1084.0 610.0 Z" fill="url(#g4dark)"/>
<path d="M1118 600 C1150 640 1165 720 1200 800 L1215 815 C1185 740 1170 650 1140 590 Z" fill="#0f6a63" fill-opacity="0.75"/>
<path d="M1100 640 C1125 700 1140 745 1168 790 L1180 800 C1150 740 1135 690 1110 630 Z" fill="#0f6a63" fill-opacity="0.55"/>
<path d="M628.0 905.0 L629.8 902.9 L632.3 900.0 L635.3 896.5 L638.6 892.7 L641.9 888.8 L645.0 885.0 L648.0 881.1 L651.0 876.9 L654.1 872.6 L657.3 868.4 L660.6 864.5 L664.0 861.0 L667.6 858.0 L671.3 855.3 L675.2 852.8 L679.1 850.6 L683.1 848.7 L687.0 847.0 L690.9 845.5 L694.9 844.3 L698.9 843.3 L703.0 842.6 L707.0 842.2 L711.0 842.0 L715.0 842.3 L719.0 842.9 L723.1 843.9 L727.1 845.0 L731.1 846.1 L735.0 847.0 L738.9 848.0 L742.7 849.1 L746.5 850.2 L750.3 851.2 L754.1 851.9 L758.0 852.0 L762.0 851.7 L766.0 851.1 L770.0 850.1 L774.0 848.8 L778.0 847.1 L782.0 845.0 L785.9 842.5 L789.7 839.7 L793.5 836.4 L797.3 832.8 L801.1 828.6 L805.0 824.0 L809.0 818.6 L813.2 812.4 L817.4 805.8 L821.5 799.0 L825.4 792.3 L829.0 786.0 L832.2 780.1 L835.1 774.4 L837.8 768.8 L840.4 763.3 L843.1 757.7 L846.0 752.0 L848.9 746.2 L851.9 740.3 L854.8 734.3 L857.9 728.4 L861.3 722.6 L865.0 717.0 L869.2 711.3 L873.9 705.3 L878.8 699.5 L883.7 694.1 L888.5 689.5 L893.0 686.0 L897.1 683.6 L900.9 682.0 L904.5 681.1 L908.1 681.0 L911.9 681.7 L916.0 683.0 L920.4 685.5 L925.1 689.4 L930.0 693.9 L934.9 698.6 L939.6 702.8 L944.0 706.0 L948.1 708.2 L952.1 710.1 L955.9 711.5 L959.6 712.3 L963.3 712.5 L967.0 712.0 L970.7 710.6 L974.2 708.4 L977.7 705.6 L981.3 702.3 L985.0 698.7 L989.0 695.0 L993.4 690.7 L998.1 685.7 L1002.9 680.3 L1007.8 675.1 L1012.6 670.5 L1017.0 667.0 L1021.1 664.6 L1025.0 662.9 L1028.8 661.8 L1032.5 661.1 L1036.2 660.9 L1040.0 661.0 L1043.8 661.8 L1047.7 663.4 L1051.6 665.5 L1055.4 667.4 L1059.2 668.8 L1063.0 669.0 L1066.8 667.6 L1070.8 665.0 L1074.7 661.8 L1078.4 658.6 L1081.9 656.1 L1085.0 655.0 L1087.5 655.1 L1089.4 655.7 L1091.0 657.0 L1092.6 659.2 L1094.5 662.5 L1097.0 667.0 L1100.1 673.2 L1103.6 681.0 L1107.3 689.9 L1111.2 699.2 L1115.2 708.5 L1119.0 717.0 L1122.9 725.2 L1126.9 733.5 L1131.0 741.8 L1135.0 749.6 L1138.7 756.8 L1142.0 763.0 L1145.0 768.3 L1147.9 772.9 L1150.4 776.9 L1152.7 780.2 L1154.6 782.9 L1156.0 785.0 L1156 884 L628 906 Z" fill="url(#g4wall)"/>
<path d="M1156 785 L1200 832 L1256 850 L1256 918 L1156 886 Z" fill="#2fb6b2"/>
<path d="M610 899 L1156 884 L1256 918 L560 915 Z" fill="#63c3c1"/>
<path d="M700 893 L1156 882 L1156 896 L760 905 Z" fill="#4fb9b7" fill-opacity="0.7"/>
<path d="M470 876 C500 868 535 852 560 838 C580 826 592 822 604 823 C620 824 640 838 660 846 C670 850 676 851 682 853 C662 874 640 892 612 908 L430 915 L430 884 Z" fill="url(#g4cy)" filter="url(#bl3)"/>
<path d="M572 805 C582 770 592 745 603 738 C616 745 628 775 642 800 C652 815 662 832 672 848 C652 842 632 822 603 818 C590 818 578 818 572 805 Z" fill="#7fd2e8" fill-opacity="0.5" filter="url(#bl3)"/>
<path d="M690 846 C720 838 760 850 790 838 C800 820 815 800 829 786 L829 870 L680 880 Z" fill="#4cbcd8" fill-opacity="0.75" filter="url(#bl3)"/>
<clipPath id="cp4"><path d="M291.0 868.0 L295.6 867.1 L302.0 865.8 L309.6 864.2 L317.8 862.6 L326.1 860.8 L334.0 859.0 L341.6 857.2 L349.4 855.3 L357.2 853.4 L365.2 851.3 L373.1 849.2 L381.0 847.0 L388.9 844.5 L397.0 841.8 L405.1 838.9 L413.0 836.2 L420.7 833.8 L428.0 832.0 L435.0 831.0 L441.7 830.7 L448.2 830.8 L454.4 830.7 L460.3 830.3 L466.0 829.0 L471.3 826.9 L476.4 824.2 L481.2 821.1 L485.7 817.7 L490.0 813.9 L494.0 810.0 L497.7 806.0 L501.0 801.7 L504.1 797.2 L507.0 792.4 L509.9 787.0 L513.0 781.0 L516.2 774.2 L519.3 766.7 L522.5 758.6 L525.7 750.3 L528.8 742.0 L532.0 734.0 L535.2 725.9 L538.3 717.5 L541.5 709.1 L544.7 701.0 L547.8 693.5 L551.0 687.0 L554.2 681.6 L557.4 677.0 L560.6 673.1 L563.7 669.6 L566.9 666.3 L570.0 663.0 L573.1 659.8 L576.2 656.7 L579.2 653.9 L582.3 651.3 L585.2 649.0 L588.0 647.0 L590.7 645.3 L593.3 643.9 L595.8 642.8 L598.2 641.9 L600.6 641.3 L603.0 641.0 L605.3 640.9 L607.4 641.1 L609.5 641.6 L611.7 642.4 L614.2 643.5 L617.0 645.0 L620.3 647.0 L624.0 649.5 L627.9 652.4 L631.9 655.4 L636.0 658.3 L640.0 661.0 L644.0 663.4 L648.0 665.7 L652.0 667.9 L656.0 670.2 L660.0 672.5 L664.0 675.0 L667.9 677.6 L671.7 680.4 L675.5 683.2 L679.3 686.1 L683.1 689.0 L687.0 692.0 L691.1 695.2 L695.3 698.6 L699.6 702.1 L703.7 705.5 L707.6 708.5 L711.0 711.0 L713.8 713.0 L716.0 714.7 L718.0 716.1 L720.0 717.1 L722.2 717.8 L725.0 718.0 L728.4 717.8 L732.3 717.1 L736.4 716.1 L740.7 714.7 L744.9 713.0 L749.0 711.0 L752.9 708.6 L756.7 705.8 L760.5 702.7 L764.3 699.3 L768.1 695.7 L772.0 692.0 L776.0 687.9 L780.1 683.4 L784.2 678.7 L788.3 674.0 L792.3 669.7 L796.0 666.0 L799.4 662.9 L802.6 660.1 L805.7 657.7 L808.7 655.6 L811.8 653.7 L815.0 652.0 L818.3 650.7 L821.6 650.0 L824.9 649.4 L828.3 648.9 L832.0 648.2 L836.0 647.0 L840.5 645.2 L845.4 642.9 L850.6 640.3 L855.7 637.8 L860.6 635.6 L865.0 634.0 L868.8 632.8 L872.1 631.9 L875.2 631.2 L878.3 630.9 L881.5 631.0 L885.0 631.6 L888.8 633.2 L892.9 635.9 L897.0 639.1 L901.3 641.9 L905.6 643.8 L910.0 644.0 L914.4 642.2 L918.9 638.8 L923.4 634.5 L928.1 629.7 L933.0 625.0 L938.0 621.0 L943.3 617.6 L948.9 614.2 L954.6 611.0 L960.4 607.9 L966.3 604.9 L972.0 602.0 L977.7 599.3 L983.6 596.7 L989.4 594.2 L995.1 591.8 L1000.7 589.4 L1006.0 587.0 L1011.1 584.4 L1016.2 581.7 L1021.1 578.9 L1025.7 576.4 L1030.0 574.4 L1034.0 573.0 L1037.5 572.3 L1040.5 572.3 L1043.2 572.7 L1045.7 573.4 L1048.3 574.2 L1051.0 575.0 L1053.8 576.1 L1056.6 577.7 L1059.3 579.4 L1062.1 580.9 L1065.0 581.9 L1068.0 582.0 L1071.2 581.3 L1074.4 580.0 L1077.8 578.2 L1081.2 575.9 L1084.6 573.1 L1088.0 570.0 L1091.3 566.2 L1094.6 561.6 L1097.9 556.6 L1101.2 551.5 L1104.6 546.5 L1108.0 542.0 L1111.6 537.6 L1115.4 533.1 L1119.3 528.8 L1123.1 524.9 L1126.7 521.9 L1130.0 520.0 L1133.0 519.3 L1135.7 519.4 L1138.2 520.3 L1140.6 522.1 L1142.8 524.6 L1145.0 528.0 L1147.0 531.9 L1148.9 536.4 L1150.6 541.7 L1152.3 548.0 L1154.0 555.7 L1156.0 565.0 L1158.1 576.6 L1160.3 590.4 L1162.6 605.6 L1165.0 621.2 L1167.5 636.3 L1170.0 650.0 L1172.6 662.3 L1175.2 673.8 L1177.9 684.9 L1180.8 695.6 L1183.8 706.3 L1187.0 717.0 L1190.5 727.9 L1194.3 739.0 L1198.2 749.9 L1202.2 760.5 L1206.2 770.6 L1210.0 780.0 L1213.7 788.8 L1217.4 797.1 L1221.0 805.0 L1224.6 812.3 L1228.3 819.0 L1232.0 825.0 L1236.0 830.4 L1240.4 835.1 L1244.9 839.3 L1249.0 842.9 L1252.5 845.8 L1255.0 848.0 L1256 918 L298 913.5 Z"/></clipPath>
<rect x="285" y="800" width="290" height="115" fill="url(#g4left)" clip-path="url(#cp4)"/>
<path d="M985.0 692.0 L986.0 689.1 L987.1 685.0 L988.6 680.2 L990.4 675.1 L992.9 670.2 L996.0 666.0 L1000.1 662.3 L1005.0 658.6 L1010.6 655.2 L1016.3 652.0 L1021.9 649.3 L1027.0 647.0 L1031.7 645.4 L1036.4 644.5 L1040.9 644.0 L1045.3 643.6 L1049.3 643.0 L1053.0 642.0 L1056.3 640.7 L1059.3 639.3 L1061.9 637.8 L1064.4 635.9 L1066.7 633.7 L1069.0 631.0 L1071.1 627.7 L1073.1 623.9 L1074.9 619.6 L1076.7 615.1 L1078.3 610.6 L1080.0 606.0 L1081.7 601.1 L1083.5 595.6 L1085.2 589.9 L1086.7 584.7 L1088.0 580.2 L1089.0 577.0 L1097.0 667.0 L1095.8 665.4 L1094.3 662.9 L1092.4 660.1 L1090.2 657.5 L1087.7 655.6 L1085.0 655.0 L1081.9 656.1 L1078.4 658.6 L1074.7 661.8 L1070.8 665.0 L1066.8 667.6 L1063.0 669.0 L1059.2 668.8 L1055.4 667.4 L1051.6 665.5 L1047.7 663.4 L1043.8 661.8 L1040.0 661.0 L1036.2 660.9 L1032.5 661.1 L1028.8 661.8 L1025.0 662.9 L1021.1 664.6 L1017.0 667.0 L1012.3 670.7 L1007.0 675.7 L1001.6 681.4 L996.4 686.9 L992.1 691.7 L989.0 695.0 Z" fill="#1b978a"/>
<path d="M628.0 905.0 L629.8 902.9 L632.3 900.0 L635.3 896.5 L638.6 892.7 L641.9 888.8 L645.0 885.0 L648.0 881.1 L651.0 876.9 L654.1 872.6 L657.3 868.4 L660.6 864.5 L664.0 861.0 L667.6 858.0 L671.3 855.3 L675.2 852.8 L679.1 850.6 L683.1 848.7 L687.0 847.0 L690.9 845.5 L694.9 844.3 L698.9 843.3 L703.0 842.6 L707.0 842.2 L711.0 842.0 L715.0 842.3 L719.0 842.9 L723.1 843.9 L727.1 845.0 L731.1 846.1 L735.0 847.0 L738.9 848.0 L742.7 849.1 L746.5 850.2 L750.3 851.2 L754.1 851.9 L758.0 852.0 L762.0 851.7 L766.0 851.1 L770.0 850.1 L774.0 848.8 L778.0 847.1 L782.0 845.0 L785.9 842.5 L789.7 839.7 L793.5 836.4 L797.3 832.8 L801.1 828.6 L805.0 824.0 L809.0 818.6 L813.2 812.4 L817.4 805.8 L821.5 799.0 L825.4 792.3 L829.0 786.0 L832.2 780.1 L835.1 774.4 L837.8 768.8 L840.4 763.3 L843.1 757.7 L846.0 752.0 L848.9 746.2 L851.9 740.3 L854.8 734.3 L857.9 728.4 L861.3 722.6 L865.0 717.0 L869.2 711.3 L873.9 705.3 L878.8 699.5 L883.7 694.1 L888.5 689.5 L893.0 686.0 L897.1 683.6 L900.9 682.0 L904.5 681.1 L908.1 681.0 L911.9 681.7 L916.0 683.0 L920.4 685.5 L925.1 689.4 L930.0 693.9 L934.9 698.6 L939.6 702.8 L944.0 706.0 L948.1 708.2 L952.1 710.1 L955.9 711.5 L959.6 712.3 L963.3 712.5 L967.0 712.0 L970.7 710.6 L974.2 708.4 L977.7 705.6 L981.3 702.3 L985.0 698.7 L989.0 695.0 L993.4 690.7 L998.1 685.7 L1002.9 680.3 L1007.8 675.1 L1012.6 670.5 L1017.0 667.0 L1021.1 664.6 L1025.0 662.9 L1028.8 661.8 L1032.5 661.1 L1036.2 660.9 L1040.0 661.0 L1043.8 661.8 L1047.7 663.4 L1051.6 665.5 L1055.4 667.4 L1059.2 668.8 L1063.0 669.0 L1066.8 667.6 L1070.8 665.0 L1074.7 661.8 L1078.4 658.6 L1081.9 656.1 L1085.0 655.0 L1087.5 655.1 L1089.4 655.7 L1091.0 657.0 L1092.6 659.2 L1094.5 662.5 L1097.0 667.0 L1100.1 673.2 L1103.6 681.0 L1107.3 689.9 L1111.2 699.2 L1115.2 708.5 L1119.0 717.0 L1122.9 725.2 L1126.9 733.5 L1131.0 741.8 L1135.0 749.6 L1138.7 756.8 L1142.0 763.0 L1145.0 768.3 L1147.9 772.9 L1150.4 776.9 L1152.7 780.2 L1154.6 782.9 L1156.0 785.0 L1156 884 L628 906 Z" fill="url(#g4wall)"/>
<path d="M1156 785 L1200 832 L1256 850 L1256 918 L1156 886 Z" fill="#2fb6b2"/>
<path d="M610 899 L1156 884 L1256 918 L560 915 Z" fill="#63c3c1"/>
<path d="M700 893 L1156 882 L1156 896 L760 905 Z" fill="#4fb9b7" fill-opacity="0.7"/>
<path d="M470 876 C500 868 535 852 560 838 C580 826 592 822 604 823 C620 824 640 838 660 846 C670 850 676 851 682 853 C662 874 640 892 612 908 L430 915 L430 884 Z" fill="url(#g4cy)" fill-opacity="0.9" filter="url(#bl3)"/>
</g>
<g stroke="#2e2e2e" stroke-width="3.7" fill="none" filter="url(#blt)">
<path d="M291.5 631 L288 913.6 L1262 918.3"/>
<path d="M255.5 633.0 H291.5"/>
<path d="M271.1 663.0 H291.1"/>
<path d="M270.7 693.0 H290.7"/>
<path d="M270.4 722.5 H290.4"/>
<path d="M270.0 752.0 H290.0"/>
<path d="M253.6 780.5 H289.6"/>
<path d="M269.2 813.0 H289.2"/>
<path d="M268.9 842.5 H288.9"/>
<path d="M268.5 873.0 H288.5"/>
<path d="M268.1 903.0 H288.1"/>
<path d="M314.4 913.7 V949.7"/>
<path d="M350.9 913.9 V934.9"/>
<path d="M387.3 914.1 V935.1"/>
<path d="M423.8 914.3 V935.3"/>
<path d="M460.2 914.4 V935.4"/>
<path d="M496.7 914.6 V950.6"/>
<path d="M532.5 914.8 V935.8"/>
<path d="M568.3 915.0 V936.0"/>
<path d="M604.1 915.1 V936.1"/>
<path d="M639.9 915.3 V936.3"/>
<path d="M675.7 915.5 V951.5"/>
<path d="M710.8 915.6 V936.6"/>
<path d="M745.8 915.8 V936.8"/>
<path d="M780.9 916.0 V937.0"/>
<path d="M815.9 916.1 V937.1"/>
<path d="M851.0 916.3 V952.3"/>
<path d="M886.0 916.5 V937.5"/>
<path d="M921.0 916.7 V937.7"/>
<path d="M956.0 916.8 V937.8"/>
<path d="M991.0 917.0 V938.0"/>
<path d="M1026.0 917.2 V953.2"/>
<path d="M1060.3 917.3 V938.3"/>
<path d="M1094.6 917.5 V938.5"/>
<path d="M1128.9 917.7 V938.7"/>
<path d="M1163.2 917.8 V938.8"/>
<path d="M1197.5 918.0 V954.0"/>
<path d="M1230.5 918.1 V939.1"/>
</g>
<g stroke="#9a9490" stroke-width="2.2" fill="none" filter="url(#blt)" stroke-linecap="round"><path d="M1263.5 887 L1285 891 L1305.5 896 M1277.5 906.5 L1297 908.5 L1318 914 M1326 907.5 L1338 906 M1347 914 L1352 912 M1256 895 H1262"/></g>
<g filter="url(#blt)" fill="#444">
<text transform="translate(160 682) rotate(90)" font-size="26" style="font-family:'Liberation Sans',sans-serif;fill:#555">A.U.</text>
<text transform="translate(210 782) rotate(90)" font-size="24" text-anchor="middle" style="font-family:'Liberation Sans',sans-serif;fill:#555">0.5</text>
</g>
<text x="212" y="636" font-size="9" filter="url(#blt)" style="font-family:'Liberation Sans',sans-serif;fill:#777">1.0</text>
<g filter="url(#bl2)">
<path d="M177 616 L224 596 L277 574 L341 542 L400 525 L479 520 L486 518 L330 570 L185 619 Z" fill="#86d6cc" fill-opacity="0.95"/>
<path d="M9.0 556.0 L13.8 554.8 L20.4 553.3 L28.2 551.3 L36.6 548.9 L45.0 546.0 L53.4 542.4 L62.4 538.3 L71.6 533.7 L80.9 528.9 L90.0 524.0 L99.2 518.8 L108.7 513.1 L118.0 507.4 L126.6 501.9 L134.0 497.0 L140.0 492.8 L144.8 489.0 L149.0 485.6 L152.9 482.3 L157.0 479.0 L161.7 475.6 L166.6 472.1 L171.2 468.8 L175.2 466.0 L178.0 464.0 L178 616 L134 605 L90 596 L45 591 L9 587 Z" fill="url(#g1tail)"/>
<path id="p1body" d="M177.0 466.0 L177.6 460.9 L178.4 454.0 L179.4 445.7 L180.6 436.5 L181.8 426.8 L183.0 417.0 L184.3 406.5 L185.7 394.7 L187.1 382.4 L188.7 370.4 L190.3 359.3 L192.0 350.0 L193.7 342.4 L195.5 335.8 L197.3 330.2 L199.3 325.5 L201.5 321.5 L204.0 318.0 L206.8 315.2 L209.8 313.4 L213.1 312.2 L216.5 311.5 L220.2 311.2 L224.0 311.0 L228.0 311.1 L232.2 311.6 L236.6 312.4 L241.1 313.4 L246.0 314.7 L251.0 316.0 L256.6 317.9 L262.9 320.4 L269.4 323.2 L275.7 325.6 L281.4 327.0 L286.0 327.0 L289.4 325.2 L291.8 321.9 L293.6 317.7 L295.0 313.1 L296.4 308.7 L298.0 305.0 L299.8 301.7 L301.5 298.3 L303.1 295.1 L304.7 292.3 L306.4 290.2 L308.0 289.0 L309.6 288.8 L311.0 289.2 L312.5 290.4 L314.1 292.2 L315.9 294.8 L318.0 298.0 L320.5 302.3 L323.3 307.9 L326.2 314.1 L329.4 320.5 L332.7 326.6 L336.0 332.0 L339.4 336.8 L342.9 341.3 L346.4 345.6 L350.1 349.5 L354.0 353.0 L358.0 356.0 L362.3 358.4 L366.9 360.4 L371.6 361.9 L376.3 363.1 L380.8 364.1 L385.0 365.0 L388.8 365.6 L392.5 365.6 L396.0 365.4 L399.3 365.4 L402.3 365.8 L405.0 367.0 L407.4 369.1 L409.4 372.0 L411.2 375.3 L412.8 378.8 L414.4 382.1 L416.0 385.0 L417.5 387.6 L418.7 390.3 L419.8 392.8 L421.1 395.0 L422.8 396.8 L425.0 398.0 L428.0 398.5 L431.5 398.3 L435.4 397.6 L439.5 396.9 L443.4 396.2 L447.0 396.0 L450.4 396.1 L453.7 396.3 L456.9 396.6 L460.0 397.1 L462.7 397.9 L465.0 399.0 L466.8 400.2 L468.3 401.3 L469.4 402.6 L470.3 404.6 L471.1 407.6 L472.0 412.0 L472.9 417.9 L473.6 425.1 L474.2 433.4 L474.9 442.3 L475.4 451.6 L476.0 461.0 L476.6 471.4 L477.2 483.3 L477.8 495.6 L478.3 507.1 L478.7 517.0 L479.0 524.0 L440 524 L400 529 L341 546 L277 578 L224 599 L177 616 Z" fill="url(#g1)"/>
<clipPath id="cp1"><path d="M177.0 466.0 L177.6 460.9 L178.4 454.0 L179.4 445.7 L180.6 436.5 L181.8 426.8 L183.0 417.0 L184.3 406.5 L185.7 394.7 L187.1 382.4 L188.7 370.4 L190.3 359.3 L192.0 350.0 L193.7 342.4 L195.5 335.8 L197.3 330.2 L199.3 325.5 L201.5 321.5 L204.0 318.0 L206.8 315.2 L209.8 313.4 L213.1 312.2 L216.5 311.5 L220.2 311.2 L224.0 311.0 L228.0 311.1 L232.2 311.6 L236.6 312.4 L241.1 313.4 L246.0 314.7 L251.0 316.0 L256.6 317.9 L262.9 320.4 L269.4 323.2 L275.7 325.6 L281.4 327.0 L286.0 327.0 L289.4 325.2 L291.8 321.9 L293.6 317.7 L295.0 313.1 L296.4 308.7 L298.0 305.0 L299.8 301.7 L301.5 298.3 L303.1 295.1 L304.7 292.3 L306.4 290.2 L308.0 289.0 L309.6 288.8 L311.0 289.2 L312.5 290.4 L314.1 292.2 L315.9 294.8 L318.0 298.0 L320.5 302.3 L323.3 307.9 L326.2 314.1 L329.4 320.5 L332.7 326.6 L336.0 332.0 L339.4 336.8 L342.9 341.3 L346.4 345.6 L350.1 349.5 L354.0 353.0 L358.0 356.0 L362.3 358.4 L366.9 360.4 L371.6 361.9 L376.3 363.1 L380.8 364.1 L385.0 365.0 L388.8 365.6 L392.5 365.6 L396.0 365.4 L399.3 365.4 L402.3 365.8 L405.0 367.0 L407.4 369.1 L409.4 372.0 L411.2 375.3 L412.8 378.8 L414.4 382.1 L416.0 385.0 L417.5 387.6 L418.7 390.3 L419.8 392.8 L421.1 395.0 L422.8 396.8 L425.0 398.0 L428.0 398.5 L431.5 398.3 L435.4 397.6 L439.5 396.9 L443.4 396.2 L447.0 396.0 L450.4 396.1 L453.7 396.3 L456.9 396.6 L460.0 397.1 L462.7 397.9 L465.0 399.0 L466.8 400.2 L468.3 401.3 L469.4 402.6 L470.3 404.6 L471.1 407.6 L472.0 412.0 L472.9 417.9 L473.6 425.1 L474.2 433.4 L474.9 442.3 L475.4 451.6 L476.0 461.0 L476.6 471.4 L477.2 483.3 L477.8 495.6 L478.3 507.1 L478.7 517.0 L479.0 524.0 L440 524 L400 529 L341 546 L277 578 L224 599 L177 616 Z"/></clipPath>
<g clip-path="url(#cp1)"><rect x="150" y="280" width="350" height="350" fill="url(#st1)" mask="url(#mk1)"/>
<path d="M479 524 L403 555 L330 577 L360 530 L420 470 L476 440 Z" fill="#22b3a8" fill-opacity="0.7" filter="url(#bl3)"/>
<path d="M416 385 L425 398 L447 396 L465 399 L472 412 L476 461 L479 524 L440 540 L425 470 Z" fill="#178c6c" fill-opacity="0.22"/>
<path d="M308 289 C296 330 282 400 262 470" fill="none" stroke="#1d6a3a" stroke-opacity="0.75" stroke-width="3"/>
<path d="M425 398 C420 450 400 500 330 545 C280 575 230 600 185 612" fill="none" stroke="#39c6e6" stroke-opacity="0.4" stroke-width="9"/>
</g>
<path d="M308 289 l-7 12 l14 2 Z" fill="#7a5a20" fill-opacity="0.8"/>
</g>
<g stroke="#3a4a55" stroke-width="2" fill="none" filter="url(#blt)">
<path d="M177 322 V616 L480 522" stroke-opacity="0.7"/>
<path d="M167 343 H177"/>
<path d="M167 375 H177"/>
<path d="M167 407 H177"/>
<path d="M167 438 H177"/>
<path d="M167 470 H177"/>
<path d="M167 503 H177"/>
<path d="M167 534 H177"/>
<path d="M167 565 H177"/>
<path d="M167 596 H177"/>
</g>
<g filter="url(#blt)" style="font-family:'Liberation Sans',sans-serif">
<text transform="translate(147 378) rotate(-90)" font-size="9" style="fill:#666;font-family:'Liberation Sans',sans-serif" text-anchor="middle">0.5</text>
<text transform="translate(128 478) rotate(-90)" font-size="9" style="fill:#666;font-family:'Liberation Sans',sans-serif" text-anchor="middle">A.U.</text>
<text transform="translate(147 509) rotate(-90)" font-size="9" style="fill:#555;font-family:'Liberation Sans',sans-serif" text-anchor="middle">0.1</text>
<text transform="translate(272 603) rotate(-17)" font-size="8" style="fill:#888;font-family:'Liberation Sans',sans-serif">1750</text>
<text transform="translate(348 580) rotate(-17)" font-size="8" style="fill:#888;font-family:'Liberation Sans',sans-serif">1700</text>
<text transform="translate(410 560) rotate(-17)" font-size="8" style="fill:#888;font-family:'Liberation Sans',sans-serif">1650</text>
<text transform="translate(368 594) rotate(-17)" font-size="7" style="fill:#888;font-family:'Liberation Sans',sans-serif">Wavenumber (cm-1)</text>
</g>
<g filter="url(#bl2)">
<path d="M948 340 L960 322 L1010 318 L1080 330 L1095 337 L1090 345 L948 346 Z" fill="#dcdcdc"/>
<path d="M513 293 C540 286 560 284 581 277 C590 262 594 245 600 225 L616 215 L616 342 C590 330 560 318 540 305 C528 300 520 297 513 293 Z" fill="#2a8fd8"/>
<path d="M520 312 L616 336" stroke="#c9b0b0" stroke-width="2" fill="none"/>
<path d="M600.0 226.0 L600.7 223.1 L601.6 219.1 L602.6 214.3 L603.9 209.4 L605.3 204.8 L607.0 201.0 L608.8 198.0 L610.7 195.2 L612.8 192.8 L615.1 190.8 L617.8 189.0 L621.0 187.5 L624.9 186.4 L629.4 185.7 L634.2 185.2 L639.2 185.1 L643.9 185.0 L648.0 185.0 L651.5 185.3 L654.7 186.1 L657.6 187.1 L660.4 187.8 L663.1 188.1 L666.0 187.5 L669.0 185.7 L672.0 182.9 L675.0 179.7 L678.0 176.4 L680.8 173.7 L683.5 172.0 L685.9 171.4 L688.0 171.4 L690.0 172.0 L692.0 173.1 L694.3 174.4 L697.0 176.0 L700.1 177.9 L703.4 180.4 L707.0 183.1 L710.8 186.1 L714.8 189.1 L719.0 192.0 L723.5 195.3 L728.4 199.1 L733.6 203.0 L738.7 206.4 L743.5 208.9 L748.0 210.0 L752.0 209.3 L755.7 207.1 L759.2 204.0 L762.6 200.5 L765.8 197.0 L769.0 194.0 L772.1 191.3 L774.9 188.6 L777.7 185.8 L780.4 183.3 L783.3 181.1 L786.5 179.5 L790.0 178.5 L793.6 177.9 L797.5 177.8 L801.4 177.9 L805.2 178.1 L809.0 178.5 L812.7 179.2 L816.5 180.5 L820.3 181.9 L824.0 183.2 L827.6 184.0 L831.0 184.0 L834.2 183.1 L837.3 181.5 L840.2 179.5 L843.1 177.1 L846.0 174.5 L849.0 172.0 L851.9 169.3 L854.7 166.2 L857.4 163.0 L860.3 159.7 L863.5 156.7 L867.0 154.0 L871.0 151.7 L875.5 149.6 L880.2 147.6 L885.0 145.9 L889.7 144.2 L894.0 142.7 L897.8 141.1 L901.3 139.5 L904.7 138.0 L908.1 136.8 L911.8 136.0 L916.0 136.0 L920.7 136.9 L925.8 138.7 L931.2 140.9 L936.7 143.3 L942.3 145.5 L948.0 147.0 L953.9 148.0 L960.1 148.6 L966.3 149.1 L972.5 149.4 L978.3 149.5 L983.5 149.5 L988.1 149.3 L992.3 148.7 L996.2 148.0 L999.7 147.3 L1003.0 146.9 L1006.0 147.0 L1008.9 147.7 L1011.5 148.9 L1013.9 150.3 L1016.0 151.8 L1017.7 153.1 L1019.0 154.0 L1000 190 L957 226 L948 240 L948 345 L607 345 Z" fill="url(#g2)"/>
<clipPath id="cp2"><path d="M600.0 226.0 L600.7 223.1 L601.6 219.1 L602.6 214.3 L603.9 209.4 L605.3 204.8 L607.0 201.0 L608.8 198.0 L610.7 195.2 L612.8 192.8 L615.1 190.8 L617.8 189.0 L621.0 187.5 L624.9 186.4 L629.4 185.7 L634.2 185.2 L639.2 185.1 L643.9 185.0 L648.0 185.0 L651.5 185.3 L654.7 186.1 L657.6 187.1 L660.4 187.8 L663.1 188.1 L666.0 187.5 L669.0 185.7 L672.0 182.9 L675.0 179.7 L678.0 176.4 L680.8 173.7 L683.5 172.0 L685.9 171.4 L688.0 171.4 L690.0 172.0 L692.0 173.1 L694.3 174.4 L697.0 176.0 L700.1 177.9 L703.4 180.4 L707.0 183.1 L710.8 186.1 L714.8 189.1 L719.0 192.0 L723.5 195.3 L728.4 199.1 L733.6 203.0 L738.7 206.4 L743.5 208.9 L748.0 210.0 L752.0 209.3 L755.7 207.1 L759.2 204.0 L762.6 200.5 L765.8 197.0 L769.0 194.0 L772.1 191.3 L774.9 188.6 L777.7 185.8 L780.4 183.3 L783.3 181.1 L786.5 179.5 L790.0 178.5 L793.6 177.9 L797.5 177.8 L801.4 177.9 L805.2 178.1 L809.0 178.5 L812.7 179.2 L816.5 180.5 L820.3 181.9 L824.0 183.2 L827.6 184.0 L831.0 184.0 L834.2 183.1 L837.3 181.5 L840.2 179.5 L843.1 177.1 L846.0 174.5 L849.0 172.0 L851.9 169.3 L854.7 166.2 L857.4 163.0 L860.3 159.7 L863.5 156.7 L867.0 154.0 L871.0 151.7 L875.5 149.6 L880.2 147.6 L885.0 145.9 L889.7 144.2 L894.0 142.7 L897.8 141.1 L901.3 139.5 L904.7 138.0 L908.1 136.8 L911.8 136.0 L916.0 136.0 L920.7 136.9 L925.8 138.7 L931.2 140.9 L936.7 143.3 L942.3 145.5 L948.0 147.0 L953.9 148.0 L960.1 148.6 L966.3 149.1 L972.5 149.4 L978.3 149.5 L983.5 149.5 L988.1 149.3 L992.3 148.7 L996.2 148.0 L999.7 147.3 L1003.0 146.9 L1006.0 147.0 L1008.9 147.7 L1011.5 148.9 L1013.9 150.3 L1016.0 151.8 L1017.7 153.1 L1019.0 154.0 L1000 190 L957 226 L948 240 L948 345 L607 345 Z"/></clipPath>
<g clip-path="url(#cp2)">
<path d="M625 300 C640 270 655 240 675 225 M690 300 C700 270 715 245 735 238 M800 285 C830 275 850 255 868 228" fill="none" stroke="#9fe6ea" stroke-opacity="0.55" stroke-width="7" filter="url(#bl3)"/>
<path d="M720 262 C740 250 765 260 780 280 C790 300 780 315 760 320 C735 322 715 300 720 262 Z" fill="#7fd8e4" fill-opacity="0.55" filter="url(#bl3)"/>
<path d="M600.0 226.0 L600.7 223.1 L601.6 219.1 L602.6 214.3 L603.9 209.4 L605.3 204.8 L607.0 201.0 L608.8 198.0 L610.7 195.2 L612.8 192.8 L615.1 190.8 L617.8 189.0 L621.0 187.5 L624.9 186.4 L629.4 185.7 L634.2 185.2 L639.2 185.1 L643.9 185.0 L648.0 185.0 L651.5 185.3 L654.7 186.1 L657.6 187.1 L660.4 187.8 L663.1 188.1 L666.0 187.5 L669.0 185.7 L672.0 182.9 L675.0 179.7 L678.0 176.4 L680.8 173.7 L683.5 172.0 L685.9 171.4 L688.0 171.4 L690.0 172.0 L692.0 173.1 L694.3 174.4 L697.0 176.0 L700.1 177.9 L703.4 180.4 L707.0 183.1 L710.8 186.1 L714.8 189.1 L719.0 192.0 L723.5 195.3 L728.4 199.1 L733.6 203.0 L738.7 206.4 L743.5 208.9 L748.0 210.0 L752.0 209.3 L755.7 207.1 L759.2 204.0 L762.6 200.5 L765.8 197.0 L769.0 194.0 L772.1 191.3 L774.9 188.6 L777.7 185.8 L780.4 183.3 L783.3 181.1 L786.5 179.5 L790.0 178.5 L793.6 177.9 L797.5 177.8 L801.4 177.9 L805.2 178.1 L809.0 178.5 L812.7 179.2 L816.5 180.5 L820.3 181.9 L824.0 183.2 L827.6 184.0 L831.0 184.0 L834.2 183.1 L837.3 181.5 L840.2 179.5 L843.1 177.1 L846.0 174.5 L849.0 172.0 L851.9 169.3 L854.7 166.2 L857.4 163.0 L860.3 159.7 L863.5 156.7 L867.0 154.0 L871.0 151.7 L875.5 149.6 L880.2 147.6 L885.0 145.9 L889.7 144.2 L894.0 142.7 L897.8 141.1 L901.3 139.5 L904.7 138.0 L908.1 136.8 L911.8 136.0 L916.0 136.0 L920.7 136.9 L925.8 138.7 L931.2 140.9 L936.7 143.3 L942.3 145.5 L948.0 147.0 L953.9 148.0 L960.1 148.6 L966.3 149.1 L972.5 149.4 L978.3 149.5 L983.5 149.5 L988.1 149.3 L992.3 148.7 L996.2 148.0 L999.7 147.3 L1003.0 146.9 L1006.0 147.0 L1008.9 147.7 L1011.5 148.9 L1013.9 150.3 L1016.0 151.8 L1017.7 153.1 L1019.0 154.0" fill="none" stroke="#1f9c3a" stroke-width="68" stroke-linejoin="round" filter="url(#bl3)"/>
<path d="M750 205 C780 190 830 185 870 165 L900 200 C880 215 860 232 835 238 C800 244 770 236 750 225 Z" fill="#1f9c3a" fill-opacity="0.85" filter="url(#bl3)"/>
<path d="M775 205 C800 225 830 225 860 200 M790 195 C812 212 840 210 865 185" fill="none" stroke="#0f7a2a" stroke-opacity="0.45" stroke-width="4" filter="url(#bl1)"/>
<path d="M607 292 C640 290 670 292 700 286 C722 280 740 286 758 300 C775 312 770 326 745 331 C700 340 650 344 607 345 Z" fill="#24a0ea" filter="url(#bl3)"/>
<path d="M600 322 C650 318 690 324 735 318 C756 322 752 340 720 346 L600 350 Z" fill="#2238b0" filter="url(#bl3)"/>
<path d="M790 345 C800 300 840 290 868 262 C880 245 885 228 890 226 C900 210 912 207 929 216 L949 225 L949 346 Z" fill="#22b4b6"/>
<path d="M849 172 L880 184 L912 198 L958 219 L957 233 L929 217 L912 208.5 L900 210 L889 224 L872 240 L850 242 L835 238 Z" fill="#25a33a" filter="url(#bl1)"/>
</g>
<path d="M849 172 C858 160 867 154 894 143 C905 138 916 136 948 147 C965 149 983 150 1006 147 L1019 154 L992 183 L970 197 L958 219 C945 212 925 203 912 198 C895 190 880 182 849 172 Z" fill="url(#g2y)"/>
<path d="M680 173 C688 166 700 170 708 182 C700 187 690 187 678 184 Z" fill="#dbe43a" fill-opacity="0.85" filter="url(#bl3)"/>
<path d="M1019 154 C1028 140 1036 124 1046 118 C1053 118 1056 126 1058 140 C1062 180 1066 205 1070 220 C1078 250 1086 275 1095 296 L1092 300 C1078 292 1066 280 1058 272 C1048 262 1040 256 1034 260 C1025 268 1018 270 1010 268 C1000 262 990 256 983 248 C975 240 965 232 957 222 L970 197 L992 183 Z" fill="url(#g2dark)"/>
<path d="M1030 175 C1040 165 1050 175 1056 200 C1062 235 1072 265 1088 292" fill="none" stroke="#111" stroke-opacity="0.55" stroke-width="7"/>
<path d="M985 205 L1010 250 M1000 195 L1022 245 M1012 185 L1034 240" fill="none" stroke="#5a5c5b" stroke-opacity="0.6" stroke-width="4"/>
</g>
<g stroke="#6a6a6a" stroke-width="1.8" fill="none" filter="url(#blt)">
<path d="M615.5 87 V343 M605 345 H1090 L1096 336"/>
<path d="M609 100.0 H615.5"/>
<path d="M609 120.5 H615.5"/>
<path d="M609 141.0 H615.5"/>
<path d="M609 161.5 H615.5"/>
<path d="M609 182.0 H615.5"/>
<path d="M609 202.5 H615.5"/>
<path d="M609 223.0 H615.5"/>
<path d="M609 243.5 H615.5"/>
<path d="M609 264.0 H615.5"/>
<path d="M609 284.5 H615.5"/>
<path d="M609 305.0 H615.5"/>
<path d="M609 325.5 H615.5"/>
<path d="M618.0 345 V352"/>
<path d="M640.1 345 V352"/>
<path d="M662.2 345 V358"/>
<path d="M684.3 345 V352"/>
<path d="M706.4 345 V352"/>
<path d="M728.5 345 V352"/>
<path d="M750.6 345 V352"/>
<path d="M772.7 345 V358"/>
<path d="M794.8 345 V352"/>
<path d="M816.9 345 V352"/>
<path d="M839.0 345 V352"/>
<path d="M861.1 345 V352"/>
<path d="M883.2 345 V358"/>
<path d="M905.3 345 V352"/>
<path d="M927.4 345 V352"/>
<path d="M949.5 345 V352"/>
<path d="M971.6 345 V358"/>
<path d="M993.7 345 V352"/>
<path d="M1015.8 345 V352"/>
<path d="M1037.9 345 V352"/>
<path d="M1060.0 345 V352"/>
<path d="M1082.1 345 V358"/>
</g>
<g filter="url(#blt)">
<text x="661" y="392" font-size="18" text-anchor="middle" style="fill:#444;font-family:'Liberation Sans',sans-serif">1750</text>
<text x="771" y="392" font-size="18" text-anchor="middle" style="fill:#444;font-family:'Liberation Sans',sans-serif">1700</text>
<text x="876" y="392" font-size="18" text-anchor="middle" style="fill:#444;font-family:'Liberation Sans',sans-serif">1650</text>
<text x="975" y="392" font-size="18" text-anchor="middle" style="fill:#444;font-family:'Liberation Sans',sans-serif">1600</text>
<text x="1069" y="392" font-size="18" text-anchor="middle" style="fill:#444;font-family:'Liberation Sans',sans-serif">1550</text>
<text x="859" y="422" font-size="16.5" text-anchor="middle" font-weight="bold" style="fill:#3a3a3a;font-family:'Liberation Sans',sans-serif">Wavenumber (cm-1)</text>
<text transform="translate(545 215) rotate(-90)" font-size="10" text-anchor="middle" style="fill:#777;font-family:'Liberation Sans',sans-serif">A.U.</text>
<text transform="translate(570 262) rotate(-90)" font-size="8" text-anchor="middle" style="fill:#777;font-family:'Liberation Sans',sans-serif">0.1</text>
</g>
<g filter="url(#bl1)">
<path d="M1172 402 L1250 398 L1364 398 L1364 432 L1655 410 L1655 506 L1353 506 Z" fill="url(#g3floor)"/>
<path d="M1486 425 L1655 417 L1655 500 Z" fill="#b5e3e0" fill-opacity="0.6"/>
<path d="M1222 384 C1228 360 1230 340 1234 329 C1238 318 1242 315 1250 314 C1258 312 1268 313 1277 318 L1262 402 L1236 414 Z" fill="#2db6c6"/>
<path d="M1173 403 C1186 398 1198 395 1206 392 C1214 388 1220 384 1227 378 L1244 404 C1236 412 1228 418 1220 418 C1208 416 1196 412 1186 408 Z" fill="#2479d8" filter="url(#bl1)"/>
<path d="M1250 402 C1258 372 1268 340 1277 318 L1287 300 C1296 292 1306 284 1315 272 C1322 258 1326 248 1330 240 C1334 225 1337 210 1340 198 C1342 190 1344 188 1345 190 C1347 196 1348 205 1349 212 C1351 230 1352 245 1353 258 L1358 264 L1362 406 L1290 408 Z" fill="url(#g3dk)"/>
<path d="M1288 300 C1298 292 1306 285 1314 274 L1318 268 L1318 290 L1300 308 Z" fill="#3fae3c" fill-opacity="0.7"/>
<path d="M1357.0 262.0 L1360.3 261.5 L1364.8 260.8 L1370.1 260.0 L1375.9 259.0 L1381.7 257.8 L1387.0 256.5 L1392.0 254.8 L1397.0 252.6 L1402.0 250.3 L1407.0 248.1 L1412.0 246.2 L1417.0 245.0 L1422.1 244.6 L1427.2 244.8 L1432.4 245.4 L1437.4 246.1 L1442.3 246.6 L1447.0 246.6 L1451.5 245.9 L1455.9 244.7 L1460.1 243.3 L1464.0 242.0 L1467.7 241.4 L1471.0 241.6 L1473.7 243.1 L1475.8 245.7 L1477.6 248.9 L1479.4 252.1 L1481.4 254.8 L1484.0 256.5 L1487.1 257.1 L1490.4 257.0 L1493.9 256.3 L1497.7 255.5 L1501.8 254.6 L1506.0 254.0 L1510.5 253.5 L1515.4 253.0 L1520.6 252.4 L1525.8 252.0 L1531.0 251.6 L1536.0 251.5 L1540.9 251.8 L1545.7 252.4 L1550.5 253.2 L1555.3 253.8 L1560.1 254.2 L1565.0 254.0 L1570.0 253.1 L1575.1 251.6 L1580.2 249.9 L1585.3 248.0 L1590.3 246.3 L1595.0 245.0 L1599.6 244.0 L1604.3 243.0 L1608.8 242.1 L1613.0 241.5 L1616.8 241.3 L1620.0 241.6 L1622.6 242.2 L1624.6 242.9 L1626.2 244.1 L1627.6 245.7 L1628.8 248.2 L1630.0 251.5 L1631.1 255.5 L1631.9 260.1 L1632.5 265.4 L1633.1 271.6 L1633.9 279.1 L1635.0 288.0 L1636.4 299.2 L1638.0 312.6 L1639.7 327.2 L1641.5 342.0 L1643.3 356.0 L1645.0 368.0 L1646.8 378.5 L1648.7 388.4 L1650.6 397.5 L1652.4 405.4 L1653.9 412.0 L1655.0 417.0 L1585 430 L1536 434.6 L1516 432 L1486 424.7 L1447 432 L1397 442 L1360 447 Z" fill="url(#g3)"/>
<clipPath id="cp3"><path d="M1357.0 262.0 L1360.3 261.5 L1364.8 260.8 L1370.1 260.0 L1375.9 259.0 L1381.7 257.8 L1387.0 256.5 L1392.0 254.8 L1397.0 252.6 L1402.0 250.3 L1407.0 248.1 L1412.0 246.2 L1417.0 245.0 L1422.1 244.6 L1427.2 244.8 L1432.4 245.4 L1437.4 246.1 L1442.3 246.6 L1447.0 246.6 L1451.5 245.9 L1455.9 244.7 L1460.1 243.3 L1464.0 242.0 L1467.7 241.4 L1471.0 241.6 L1473.7 243.1 L1475.8 245.7 L1477.6 248.9 L1479.4 252.1 L1481.4 254.8 L1484.0 256.5 L1487.1 257.1 L1490.4 257.0 L1493.9 256.3 L1497.7 255.5 L1501.8 254.6 L1506.0 254.0 L1510.5 253.5 L1515.4 253.0 L1520.6 252.4 L1525.8 252.0 L1531.0 251.6 L1536.0 251.5 L1540.9 251.8 L1545.7 252.4 L1550.5 253.2 L1555.3 253.8 L1560.1 254.2 L1565.0 254.0 L1570.0 253.1 L1575.1 251.6 L1580.2 249.9 L1585.3 248.0 L1590.3 246.3 L1595.0 245.0 L1599.6 244.0 L1604.3 243.0 L1608.8 242.1 L1613.0 241.5 L1616.8 241.3 L1620.0 241.6 L1622.6 242.2 L1624.6 242.9 L1626.2 244.1 L1627.6 245.7 L1628.8 248.2 L1630.0 251.5 L1631.1 255.5 L1631.9 260.1 L1632.5 265.4 L1633.1 271.6 L1633.9 279.1 L1635.0 288.0 L1636.4 299.2 L1638.0 312.6 L1639.7 327.2 L1641.5 342.0 L1643.3 356.0 L1645.0 368.0 L1646.8 378.5 L1648.7 388.4 L1650.6 397.5 L1652.4 405.4 L1653.9 412.0 L1655.0 417.0 L1585 430 L1536 434.6 L1516 432 L1486 424.7 L1447 432 L1397 442 L1360 447 Z"/></clipPath>
<g clip-path="url(#cp3)"><rect x="1340" y="220" width="330" height="240" fill="url(#st3)" mask="url(#mk3)"/>
<path d="M1478 245 C1474 300 1478 380 1486 430" fill="none" stroke="#1f7f3a" stroke-opacity="0.5" stroke-width="10"/>
<path d="M1560 300 C1580 330 1600 350 1640 360 L1640 300 Z" fill="#1f7f3a" fill-opacity="0.25"/>
</g>
</g>
<g stroke="#777" stroke-width="1.7" fill="none" filter="url(#blt)">
<path d="M1180.6 190 V402 M1172 402.4 L1352.7 506.3 H1655"/>
<path d="M1174 215 H1180.6"/>
<path d="M1174 243 H1180.6"/>
<path d="M1174 272 H1180.6"/>
<path d="M1174 300 H1180.6"/>
<path d="M1174 330 H1180.6"/>
<path d="M1174 358 H1180.6"/>
<path d="M1174 386 H1180.6"/>
<path d="M1180.0 407.0 l-3 7"/>
<path d="M1195.2 415.8 l-3 7"/>
<path d="M1210.4 424.5 l-3 7"/>
<path d="M1225.6 433.2 l-3 7"/>
<path d="M1240.8 442.0 l-3 7"/>
<path d="M1256.0 450.8 l-3 7"/>
<path d="M1271.2 459.5 l-3 7"/>
<path d="M1286.4 468.2 l-3 7"/>
<path d="M1301.6 477.0 l-3 7"/>
<path d="M1316.8 485.8 l-3 7"/>
<path d="M1332.0 494.5 l-3 7"/>
<path d="M1347.2 503.2 l-3 7"/>
<path d="M1390 506 v5"/>
<path d="M1428 506 v5"/>
<path d="M1465 506 v5"/>
<path d="M1502 506 v5"/>
<path d="M1540 506 v5"/>
<path d="M1577 506 v5"/>
<path d="M1615 506 v5"/>
</g>
<g filter="url(#blt)">
<text transform="translate(1165 443) rotate(74)" font-size="16" font-weight="bold" style="fill:#333;font-family:'Liberation Sans',sans-serif">00</text>
<text transform="translate(1190 457) rotate(74)" font-size="16" font-weight="bold" style="fill:#333;font-family:'Liberation Sans',sans-serif">70</text>
<text transform="translate(1220 474) rotate(74)" font-size="16" font-weight="bold" style="fill:#333;font-family:'Liberation Sans',sans-serif">75</text>
<text transform="translate(1252 492) rotate(74)" font-size="16" font-weight="bold" style="fill:#333;font-family:'Liberation Sans',sans-serif">373</text>
<text transform="translate(1290 513) rotate(74)" font-size="16" font-weight="bold" style="fill:#333;font-family:'Liberation Sans',sans-serif">000</text>
<text transform="translate(1331 539) rotate(74)" font-size="16" font-weight="bold" style="fill:#333;font-family:'Liberation Sans',sans-serif">570</text>
<text transform="translate(1215 509) rotate(38.8)" font-size="8.6" font-weight="bold" style="fill:#333;font-family:'Liberation Sans',sans-serif">Wavenumber (cm-1)</text>
<text x="1382" y="529" font-size="8.2" font-weight="bold" style="fill:#555;font-family:'Liberation Sans',sans-serif">Key to experiment</text>
<text x="1382" y="543" font-size="8.2" font-weight="bold" style="fill:#555;font-family:'Liberation Sans',sans-serif">Conditions final temp</text>
<text x="1535" y="529" font-size="8.2" font-weight="bold" style="fill:#555;font-family:'Liberation Sans',sans-serif">Key to experiment</text>
<text x="1535" y="543" font-size="8.2" font-weight="bold" style="fill:#555;font-family:'Liberation Sans',sans-serif">Conditions final temp</text>
</g>
<path d="M414.7 496.7 L542.1 625.6" stroke="#000" stroke-width="9.0" fill="none"/>
<path d="M559.0 642.7 L530.4 633.0 L549.6 614.0 Z" fill="#000"/>
<path d="M861.7 440.0 L866.3 600.4" stroke="#000" stroke-width="9.0" fill="none"/>
<path d="M867.0 624.4 L852.7 597.8 L879.7 597.0 Z" fill="#000"/>
<path d="M1279.5 407.3 L1106.4 552.6" stroke="#000" stroke-width="9.0" fill="none"/>
<path d="M1088.0 568.0 L1100.0 540.3 L1117.4 561.0 Z" fill="#000"/>
<path d="M808.8 100.0 L808.8 162.0" stroke="#000" stroke-width="2.7" fill="none"/>
<path d="M808.8 170.0 L801.8 159.0 L815.8 159.0 Z" fill="#000"/>
<text transform="translate(196.5 251.5) scale(0.98 1)" font-size="51">1 716 cm<tspan dy="-15.5" font-size="33">-1</tspan></text>
<text transform="translate(715.5 81.0) scale(0.98 1)" font-size="51">1 635 cm<tspan dy="-15.5" font-size="33">-1</tspan></text>
<text transform="translate(1401.5 198.0) scale(0.98 1)" font-size="51">1 571 cm<tspan dy="-15.5" font-size="33">-1</tspan></text>
<text x="158.5" y="113" font-size="65">(a)</text>
<text x="309.0" y="1009" font-size="62" text-anchor="middle">1 800</text>
<text x="485.5" y="1009" font-size="62" text-anchor="middle">1 750</text>
<text x="661.0" y="1009" font-size="62" text-anchor="middle">1 700</text>
<text x="843.5" y="1009" font-size="62" text-anchor="middle">1 650</text>
<text x="1022.5" y="1009" font-size="62" text-anchor="middle">1 600</text>
<text x="1195.5" y="1009" font-size="62" text-anchor="middle">1 550</text>
<text x="594.5" y="1076" font-size="62">Wave number/cm<tspan dy="-19" font-size="40">-1</tspan></text>
</g>
<g id="panelB">
<g stroke="#000" stroke-width="10" fill="none" stroke-linecap="round">
<path d="M1938 49.0 H3210 M1954 49.0 V967.5 M3194 49.0 V949.5 M1954 949.5 H3210"/>
<path d="M1938 246 H1954"/>
<path d="M1938 447 H1954"/>
<path d="M1938 648 H1954"/>
<path d="M1938 848 H1954"/>
<path d="M1946 149 H1954" stroke-width="7"/>
<path d="M1946 349 H1954" stroke-width="7"/>
<path d="M1946 548 H1954" stroke-width="7"/>
<path d="M1946 748 H1954" stroke-width="7"/>
<path d="M3194 229 H3210"/>
<path d="M3194 409 H3210"/>
<path d="M3194 589 H3210"/>
<path d="M3194 769 H3210"/>
<path d="M3194 139 H3203" stroke-width="7"/>
<path d="M3194 320 H3203" stroke-width="7"/>
<path d="M3194 500 H3203" stroke-width="7"/>
<path d="M3194 680 H3203" stroke-width="7"/>
<path d="M3194 860 H3203" stroke-width="7"/>
<path d="M2469 949.5 V967.5"/>
<path d="M2986 949.5 V967.5"/>
<path d="M2211 949.5 V957.5" stroke-width="7"/>
<path d="M2727 949.5 V957.5" stroke-width="7"/>
</g>
<ellipse cx="2638" cy="538" rx="100" ry="365" fill="none" stroke="#2698d8" stroke-width="5" stroke-dasharray="17 12"/>
<path d="M1958.0 892.0 L1958.1 889.7 L1958.1 887.4 L1958.2 885.1 L1958.3 882.9 L1958.3 880.6 L1958.4 878.3 L1958.5 876.2 L1958.5 874.0 L1958.6 871.9 L1958.7 869.7 L1958.7 867.6 L1958.8 865.4 L1958.8 863.3 L1958.9 861.1 L1959.0 859.0 L1959.0 856.9 L1959.1 854.9 L1959.1 852.8 L1959.2 850.8 L1959.3 848.7 L1959.3 846.6 L1959.4 844.6 L1959.4 842.5 L1959.5 840.4 L1959.6 838.4 L1959.6 836.3 L1959.7 834.1 L1959.8 832.0 L1959.8 829.8 L1959.9 827.6 L1960.0 825.5 L1960.0 823.3 L1960.1 821.1 L1960.2 819.0 L1960.2 816.8 L1960.3 814.6 L1960.4 812.4 L1960.4 810.4 L1960.5 808.3 L1960.6 806.2 L1960.7 804.1 L1960.7 802.1 L1960.8 800.0 L1960.9 797.9 L1961.0 795.8 L1961.0 793.8 L1961.1 791.7 L1961.2 789.6 L1961.3 787.4 L1961.4 785.2 L1961.4 783.1 L1961.5 780.9 L1961.6 778.7 L1961.7 776.5 L1961.8 774.4 L1961.9 772.2 L1962.0 770.0 L1962.1 768.0 L1962.2 765.9 L1962.3 763.9 L1962.4 761.8 L1962.5 759.8 L1962.7 757.8 L1962.8 755.7 L1962.9 753.7 L1963.0 751.6 L1963.1 749.5 L1963.3 747.4 L1963.4 745.3 L1963.5 743.1 L1963.7 741.0 L1963.8 738.9 L1964.0 736.6 L1964.1 734.3 L1964.3 732.1 L1964.5 729.8 L1964.6 727.5 L1964.8 725.2 L1965.0 723.0 L1965.2 720.8 L1965.3 718.6 L1965.5 716.4 L1965.7 714.2 L1965.9 712.0 L1966.0 709.8 L1966.2 707.6 L1966.4 705.4 L1966.6 703.1 L1966.7 700.9 L1966.9 698.7 L1967.1 696.4 L1967.3 694.2 L1967.5 691.9 L1967.6 689.6 L1967.8 687.3 L1968.0 685.0 L1968.2 683.0 L1968.3 680.9 L1968.5 678.9 L1968.6 676.9 L1968.8 674.8 L1969.0 672.8 L1969.1 670.8 L1969.3 668.7 L1969.5 666.7 L1969.6 664.6 L1969.8 662.6 L1970.0 660.6 L1970.1 658.5 L1970.3 656.5 L1970.5 654.4 L1970.6 652.4 L1970.8 650.4 L1971.0 648.3 L1971.2 646.3 L1971.3 644.2 L1971.5 642.2 L1971.7 640.2 L1971.8 638.1 L1972.0 636.1 L1972.2 634.1 L1972.4 632.0 L1972.5 630.0 L1972.7 628.0 L1972.9 626.0 L1973.0 623.9 L1973.2 621.9 L1973.4 619.9 L1973.5 617.9 L1973.7 615.9 L1973.9 613.9 L1974.1 611.6 L1974.3 609.3 L1974.4 606.9 L1974.6 604.6 L1974.8 602.3 L1975.0 600.0 L1975.1 598.0 L1975.3 596.0 L1975.4 594.0 L1975.6 592.0 L1975.7 590.0 L1975.9 588.0 L1976.0 586.0 L1976.2 583.9 L1976.3 581.9 L1976.5 579.8 L1976.6 577.8 L1976.8 575.8 L1976.9 573.7 L1977.0 571.7 L1977.2 569.6 L1977.3 567.6 L1977.4 565.6 L1977.6 563.6 L1977.7 561.5 L1977.9 559.5 L1978.0 557.5 L1978.2 555.2 L1978.3 553.0 L1978.5 550.7 L1978.6 548.4 L1978.8 546.2 L1979.0 543.9 L1979.1 541.8 L1979.3 539.7 L1979.5 537.6 L1979.6 535.5 L1979.8 533.4 L1980.0 531.2 L1980.2 529.0 L1980.4 526.8 L1980.6 524.5 L1980.8 522.2 L1981.0 520.0 L1981.3 517.6 L1981.5 515.2 L1981.8 512.9 L1982.0 510.5 L1982.3 508.5 L1982.5 506.5 L1982.8 504.5 L1983.0 502.4 L1983.4 500.1 L1983.7 497.7 L1984.1 495.4 L1984.4 493.2 L1984.8 491.0 L1985.2 488.8 L1985.6 486.6 L1986.0 484.4 L1986.5 482.2 L1987.0 479.8 L1987.5 477.4 L1988.0 475.0 L1988.4 473.0 L1988.9 471.0 L1989.3 469.1 L1989.8 467.1 L1990.3 465.0 L1990.8 462.9 L1991.2 460.9 L1991.7 458.8 L1992.3 456.7 L1992.8 454.6 L1993.3 452.5 L1993.9 450.4 L1994.4 448.4 L1995.0 446.4 L1995.6 444.4 L1996.1 442.4 L1996.9 440.0 L1997.7 437.6 L1998.5 435.2 L1999.4 433.1 L2000.2 431.1 L2001.0 429.0 L2002.3 426.5 L2003.5 424.1 L2004.8 422.1 L2006.1 420.2 L2007.5 418.6 L2008.9 417.0 L2011.7 414.3 L2014.8 411.7 L2016.4 410.3 L2018.0 409.0 L2019.8 407.7 L2021.5 406.5 L2023.4 405.4 L2025.3 404.3 L2027.3 403.4 L2029.2 402.4 L2031.3 401.4 L2033.3 400.3 L2035.2 399.1 L2037.2 398.0 L2039.1 396.5 L2041.0 395.0 L2042.8 393.3 L2044.6 391.6 L2046.3 389.8 L2048.0 388.0 L2049.6 386.1 L2051.3 384.1 L2053.0 381.9 L2054.7 379.7 L2055.9 378.1 L2057.1 376.4 L2058.2 374.7 L2059.5 372.8 L2060.7 370.9 L2062.0 369.0 L2063.3 366.7 L2064.6 364.5 L2066.0 362.2 L2067.0 360.2 L2068.0 358.3 L2069.0 356.3 L2070.0 354.3 L2071.1 352.2 L2072.1 350.1 L2073.2 348.0 L2074.2 345.9 L2075.3 343.7 L2076.4 341.5 L2077.5 339.4 L2078.6 337.2 L2079.8 335.1 L2080.9 333.0 L2082.1 330.9 L2083.2 328.8 L2084.4 326.8 L2085.6 324.9 L2086.8 322.9 L2088.0 321.0 L2089.3 319.2 L2090.5 317.4 L2091.8 315.5 L2093.0 313.7 L2094.4 312.0 L2095.7 310.2 L2097.0 308.4 L2098.3 306.6 L2099.7 304.9 L2101.0 303.2 L2102.4 301.5 L2103.8 299.8 L2105.2 298.1 L2106.6 296.4 L2108.0 294.8 L2109.4 293.1 L2110.8 291.6 L2112.2 290.0 L2113.7 288.4 L2115.1 286.9 L2116.6 285.4 L2118.1 283.9 L2119.5 282.5 L2121.0 281.0 L2122.5 279.6 L2124.1 278.2 L2125.6 276.9 L2127.2 275.5 L2128.8 274.2 L2130.4 272.9 L2132.0 271.6 L2133.7 270.3 L2135.3 269.1 L2137.0 267.9 L2138.7 266.7 L2140.3 265.4 L2142.5 263.9 L2144.7 262.4 L2146.9 260.9 L2149.0 259.5 L2151.1 258.2 L2153.2 256.8 L2155.1 255.5 L2157.1 254.3 L2159.0 253.0 L2160.7 251.9 L2162.5 250.8 L2164.2 249.7 L2166.5 248.3 L2168.9 246.9 L2171.1 245.7 L2173.3 244.4 L2175.5 243.3 L2177.7 242.2 L2179.9 241.2 L2182.2 240.1 L2184.6 239.1 L2187.0 238.0 L2189.6 236.9 L2192.2 235.9 L2194.8 234.9 L2197.4 233.8 L2200.2 232.9 L2202.9 231.9 L2205.7 231.0 L2208.4 230.1 L2211.3 229.3 L2214.2 228.5 L2216.1 228.0 L2218.1 227.5 L2220.0 227.0 L2222.1 226.6 L2224.1 226.2 L2226.2 225.7 L2228.4 225.4 L2230.6 225.0 L2232.7 224.7 L2235.0 224.4 L2237.2 224.1 L2239.4 223.8 L2241.6 223.5 L2243.8 223.2 L2246.0 223.0 L2248.1 222.7 L2250.2 222.5 L2252.3 222.2 L2255.2 221.9 L2258.0 221.5 L2260.4 221.1 L2262.9 220.8 L2265.0 220.4 L2267.1 220.1 L2271.0 219.4 L2274.9 218.8 L2277.0 218.6 L2279.1 218.4 L2281.6 218.2 L2284.0 218.0 L2287.0 217.8 L2290.0 217.7 L2292.3 217.6 L2294.6 217.4 L2296.9 217.3 L2299.3 217.3 L2301.7 217.2 L2304.1 217.1 L2306.4 217.1 L2308.7 217.1 L2311.0 217.1 L2313.1 217.1 L2315.1 217.2 L2317.2 217.3 L2319.6 217.7 L2322.0 218.0 L2324.9 219.3 L2326.2 221.1 L2326.7 223.3 L2327.1 225.5 L2328.3 227.5 L2331.0 229.0 L2333.1 229.5 L2335.1 230.0 L2337.6 230.4 L2340.1 230.8 L2343.0 231.1 L2345.8 231.3 L2347.9 231.5 L2350.0 231.6 L2352.1 231.7 L2354.4 231.8 L2356.6 231.8 L2358.9 231.9 L2361.3 231.9 L2363.6 232.0 L2366.0 232.0 L2368.6 231.9 L2371.2 231.9 L2373.7 231.8 L2375.9 231.7 L2378.0 231.5 L2380.1 231.4 L2382.3 231.2 L2384.5 231.1 L2386.8 230.9 L2389.0 230.7 L2391.2 230.5 L2393.5 230.4 L2395.8 230.2 L2398.1 230.0 L2400.4 229.9 L2402.7 229.8 L2404.9 229.7 L2407.2 229.6 L2409.4 229.5 L2411.6 229.5 L2413.7 229.5 L2415.9 229.5 L2418.0 229.5 L2420.1 229.6 L2422.2 229.8 L2424.2 229.9 L2426.3 230.0 L2428.4 230.3 L2430.5 230.5 L2432.6 230.7 L2434.7 230.9 L2436.8 231.2 L2438.8 231.5 L2440.9 231.8 L2442.9 232.0 L2444.9 232.4 L2446.9 232.7 L2448.9 233.0 L2450.9 233.3 L2453.3 233.8 L2455.8 234.2 L2458.3 234.7 L2460.5 235.1 L2462.8 235.6 L2465.0 236.0 L2467.0 236.5 L2469.0 236.9 L2470.9 237.4 L2473.6 238.2 L2476.2 238.9 L2478.6 239.7 L2480.9 240.5 L2483.2 241.4 L2485.4 242.2 L2487.5 242.9 L2489.7 243.7 L2491.8 244.3 L2494.0 245.0 L2496.2 245.5 L2498.4 246.0 L2500.6 246.4 L2502.9 246.8 L2505.0 247.2 L2507.1 247.5 L2509.1 247.9 L2511.1 248.3 L2514.8 249.3 L2518.0 250.7 L2520.6 252.4 L2522.6 254.1 L2524.2 256.1 L2525.7 258.5 L2527.3 261.4 L2529.0 265.0 L2530.0 267.2 L2530.9 269.5 L2531.9 272.1 L2532.9 274.8 L2533.5 276.7 L2534.2 278.7 L2534.8 280.6 L2535.5 282.7 L2536.1 284.7 L2536.8 286.7 L2537.5 288.6 L2538.2 290.6 L2538.9 292.6 L2539.9 295.3 L2541.0 298.0 L2542.1 300.5 L2543.2 303.0 L2544.2 305.4 L2545.3 307.9 L2546.4 310.2 L2547.6 312.6 L2548.7 314.9 L2549.9 317.2 L2551.1 319.4 L2552.4 321.6 L2553.7 323.8 L2555.0 326.0 L2556.4 328.2 L2557.8 330.3 L2559.2 332.4 L2560.6 334.6 L2562.1 336.6 L2563.6 338.7 L2565.2 340.7 L2566.8 342.7 L2568.5 344.5 L2570.3 346.3 L2572.1 348.0 L2574.0 349.6 L2576.2 351.1 L2578.3 352.6 L2580.8 354.0 L2583.3 355.4 L2585.8 356.7 L2588.4 358.0 L2591.0 359.0 L2593.5 360.1 L2595.8 361.0 L2598.2 361.8 L2600.1 362.4 L2602.0 363.0 L2604.9 363.3 L2607.0 362.9 L2608.7 362.0 L2610.2 360.9 L2611.9 360.2 L2614.0 360.0 L2616.5 360.7 L2619.1 362.1 L2621.8 363.8 L2624.7 365.3 L2627.8 366.2 L2631.0 366.0 L2634.5 364.5 L2636.3 363.1 L2638.2 361.8 L2640.1 360.2 L2642.1 358.6 L2644.0 356.9 L2646.0 355.2 L2648.0 353.7 L2650.0 352.2 L2652.0 351.1 L2654.0 350.0 L2655.9 349.3 L2657.9 348.6 L2659.8 348.1 L2661.8 347.6 L2665.7 347.0 L2669.7 346.7 L2671.7 346.7 L2673.8 346.7 L2675.9 346.9 L2678.0 347.0 L2680.3 347.4 L2682.6 347.8 L2685.1 348.4 L2687.6 349.1 L2690.1 349.9 L2692.6 350.7 L2695.1 351.5 L2697.6 352.4 L2699.8 353.1 L2702.1 353.9 L2704.0 354.5 L2706.0 355.0 L2709.0 356.0 L2711.2 357.0 L2713.0 358.0 L2714.8 358.4 L2717.0 358.1 L2720.0 356.7 L2721.9 355.5 L2723.7 354.2 L2725.8 352.6 L2727.9 351.0 L2729.5 349.6 L2731.0 348.2 L2732.5 346.9 L2734.1 345.3 L2735.8 343.7 L2737.4 342.2 L2739.1 340.4 L2740.9 338.6 L2742.6 336.8 L2744.4 334.9 L2746.2 332.9 L2748.0 331.0 L2749.5 329.2 L2751.0 327.5 L2752.4 325.7 L2753.9 324.0 L2755.2 322.3 L2756.5 320.6 L2757.8 318.9 L2759.1 317.2 L2760.4 315.5 L2761.8 313.7 L2763.2 311.9 L2764.5 310.1 L2765.9 308.3 L2767.2 306.5 L2768.6 304.8 L2769.9 303.0 L2771.3 301.2 L2772.7 299.5 L2774.0 297.7 L2775.3 296.2 L2776.5 294.6 L2777.8 293.0 L2779.1 291.5 L2780.4 289.9 L2781.8 288.5 L2783.2 287.0 L2784.6 285.5 L2786.0 284.0 L2787.6 282.7 L2789.2 281.5 L2790.8 280.2 L2792.9 279.0 L2795.1 277.9 L2797.0 277.3 L2798.9 276.6 L2802.6 275.9 L2806.2 275.2 L2810.0 274.0 L2812.0 273.3 L2813.9 272.5 L2815.9 271.9 L2817.9 271.2 L2819.9 270.6 L2821.8 269.9 L2823.7 269.2 L2825.7 268.6 L2827.5 267.8 L2829.4 267.0 L2831.2 266.0 L2833.0 265.0 L2834.7 263.8 L2836.3 262.6 L2837.9 261.2 L2839.4 259.8 L2840.9 258.3 L2842.4 256.8 L2843.9 255.3 L2845.4 253.7 L2847.0 252.2 L2848.6 250.8 L2850.3 249.4 L2852.0 248.0 L2853.9 246.8 L2855.7 245.5 L2857.7 244.4 L2859.7 243.2 L2861.7 242.1 L2863.8 241.0 L2865.8 239.9 L2867.9 238.8 L2869.9 237.6 L2872.0 236.5 L2874.0 235.2 L2876.0 234.0 L2878.0 232.6 L2879.9 231.2 L2881.9 229.7 L2883.9 228.1 L2885.9 226.5 L2887.8 225.0 L2889.7 223.4 L2891.7 221.9 L2893.5 220.6 L2895.4 219.2 L2897.2 218.1 L2899.0 217.0 L2902.5 215.3 L2905.8 214.1 L2909.1 213.1 L2912.2 212.5 L2915.2 212.0 L2918.0 211.6 L2920.5 211.4 L2922.7 211.3 L2924.7 211.4 L2926.8 211.8 L2929.1 212.3 L2932.0 213.0 L2935.0 214.1 L2938.0 215.5 L2941.3 217.1 L2943.2 217.9 L2945.2 218.7 L2947.6 219.5 L2950.0 220.3 L2952.0 220.7 L2954.0 221.1 L2956.0 221.5 L2958.5 221.8 L2961.1 222.2 L2963.6 222.5 L2965.8 222.7 L2968.1 222.9 L2970.3 223.1 L2972.6 223.4 L2975.0 223.5 L2977.5 223.7 L2980.0 223.9 L2982.4 224.1 L2984.5 224.2 L2986.6 224.3 L2988.6 224.5 L2990.7 224.6 L2992.8 224.7 L2994.8 224.8 L2996.9 224.9 L2999.0 225.0 L3001.0 225.1 L3003.1 225.1 L3005.6 225.2 L3008.1 225.3 L3010.5 225.3 L3013.0 225.4 L3015.4 225.4 L3017.8 225.3 L3020.1 225.3 L3022.5 225.3 L3024.9 225.2 L3027.3 225.1 L3029.7 224.9 L3032.0 224.8 L3034.4 224.6 L3036.8 224.5 L3039.2 224.3 L3041.6 224.2 L3043.9 224.0 L3046.3 223.9 L3048.7 223.7 L3051.1 223.6 L3053.4 223.5 L3055.8 223.4 L3058.2 223.4 L3060.6 223.3 L3062.9 223.3 L3065.3 223.4 L3067.6 223.4 L3070.0 223.5 L3072.3 223.7 L3074.7 223.9 L3077.0 224.2 L3079.4 224.4 L3081.7 224.7 L3084.0 225.1 L3086.3 225.5 L3088.7 225.8 L3091.0 226.2 L3093.3 226.7 L3095.6 227.1 L3097.9 227.5 L3100.3 227.9 L3102.6 228.4 L3104.9 228.8 L3107.2 229.3 L3109.6 229.7 L3111.9 230.1 L3114.2 230.4 L3116.6 230.8 L3118.9 231.1 L3121.3 231.4 L3123.6 231.7 L3126.0 232.0 L3128.0 232.1 L3130.1 232.3 L3132.1 232.4 L3134.2 232.6 L3136.2 232.7 L3138.4 232.8 L3140.7 232.9 L3142.9 233.0 L3145.1 233.1 L3147.3 233.2 L3149.6 233.3 L3151.8 233.3 L3154.0 233.4 L3156.3 233.5 L3158.5 233.5 L3160.6 233.6 L3162.7 233.6 L3164.7 233.6 L3166.8 233.7 L3168.9 233.7 L3171.1 233.8 L3173.3 233.8 L3175.5 233.8 L3177.7 233.9 L3179.8 233.9 L3181.9 234.0 L3184.0 234.0" fill="none" stroke="#a30a83" stroke-width="11.0" stroke-linejoin="round" stroke-linecap="round"/>
<path d="M1949.5 696.0 L1950.7 697.6 L1952.4 699.9 L1954.4 702.6 L1956.6 706.2 L1958.8 710.0 L1961.0 713.2 L1963.2 714.1 L1965.5 714.8 L1967.9 715.5 L1970.3 717.9 L1972.7 720.6 L1975.0 723.2 L1977.0 724.9 L1978.6 724.6 L1980.2 724.2 L1982.1 723.7 L1984.6 724.8 L1988.0 726.0 L1990.3 726.5 L1992.6 727.1 L1995.5 727.6 L1998.3 728.0 L2000.4 728.2 L2002.5 728.5 L2004.6 728.7 L2006.8 729.0 L2008.9 728.5 L2011.0 727.7 L2014.0 726.8 L2017.0 725.8 L2019.5 726.3 L2022.0 727.1 L2024.0 728.1 L2026.1 729.0 L2029.6 729.2 L2032.7 728.9 L2035.5 729.6 L2038.2 730.8 L2041.0 731.7 L2043.3 732.9 L2045.0 734.2 L2046.5 735.2 L2048.5 736.5 L2051.5 738.2 L2053.7 738.1 L2056.0 736.7 L2058.2 735.3 L2060.5 733.9 L2062.7 733.2 L2064.9 733.4 L2067.0 733.6 L2069.2 733.8 L2071.3 734.0 L2073.7 734.2 L2076.1 734.9 L2078.5 736.3 L2080.9 737.7 L2083.4 738.9 L2085.8 737.5 L2088.2 736.1 L2090.7 736.4 L2092.9 737.6 L2095.2 738.8 L2097.4 740.0 L2099.6 741.1 L2102.1 741.9 L2104.5 741.3 L2107.0 740.6 L2109.8 740.4 L2112.7 740.1 L2115.0 742.0 L2117.3 744.4 L2119.3 746.7 L2121.2 749.1 L2123.0 751.3 L2124.7 752.2 L2127.8 751.6 L2131.0 750.4 L2134.0 751.4 L2136.6 751.4 L2138.9 750.9 L2141.1 750.2 L2143.4 749.6 L2146.0 749.7 L2148.3 750.3 L2150.0 750.8 L2151.8 750.3 L2154.3 749.5 L2158.2 751.1 L2161.1 752.9 L2164.0 752.6 L2166.1 752.2 L2168.2 751.8 L2170.3 751.5 L2172.4 752.0 L2174.6 753.0 L2176.7 754.0 L2178.9 754.9 L2181.0 755.9 L2183.1 755.9 L2185.2 754.8 L2187.2 753.7 L2189.2 752.8 L2191.2 752.6 L2193.2 752.3 L2195.2 752.1 L2197.3 752.3 L2199.3 752.9 L2201.4 753.5 L2203.5 754.1 L2205.6 754.1 L2207.6 754.0 L2210.0 753.9 L2212.4 753.8 L2214.8 754.4 L2217.2 755.0 L2219.5 755.9 L2221.6 757.0 L2223.7 758.1 L2225.8 759.2 L2227.9 758.9 L2230.0 758.3 L2232.2 757.7 L2234.5 757.5 L2236.7 758.6 L2238.9 759.7 L2241.0 760.7 L2243.0 761.6 L2245.0 761.5 L2247.1 760.3 L2249.6 758.8 L2252.1 757.3 L2254.7 759.2 L2257.1 761.3 L2259.6 763.4 L2262.0 764.7 L2264.5 762.6 L2266.9 760.6 L2269.4 759.8 L2271.9 761.1 L2274.5 762.4 L2277.0 763.7 L2279.6 764.9 L2282.2 765.4 L2284.8 765.6 L2287.4 765.8 L2290.1 765.9 L2292.7 766.2 L2295.3 766.5 L2297.9 766.9 L2300.5 767.2 L2303.1 767.6 L2305.7 767.5 L2308.3 766.6 L2310.9 765.7 L2313.6 764.9 L2316.2 765.8 L2318.8 766.9 L2321.4 768.0 L2324.0 769.0 L2326.0 769.9 L2328.0 770.4 L2330.0 770.7 L2332.0 770.9 L2334.1 771.2 L2336.2 770.2 L2338.3 769.2 L2340.3 768.1 L2342.4 768.3 L2344.5 770.7 L2346.6 773.0 L2348.6 773.9 L2350.6 773.7 L2352.6 773.5 L2354.7 773.3 L2356.7 773.1 L2359.2 772.8 L2361.7 773.7 L2364.2 774.8 L2366.5 775.7 L2368.7 776.6 L2371.0 777.5 L2373.0 777.8 L2375.0 777.6 L2377.0 777.4 L2379.8 777.3 L2382.6 779.1 L2385.1 780.8 L2387.6 780.6 L2389.8 778.8 L2392.1 776.9 L2394.2 777.2 L2396.2 778.3 L2400.0 780.0 L2403.0 781.0 L2405.1 781.1 L2406.8 780.0 L2408.5 778.2 L2410.7 776.7 L2414.0 775.5 L2416.1 775.1 L2418.2 774.8 L2420.7 774.7 L2423.1 776.4 L2425.8 778.5 L2428.4 780.5 L2430.4 782.0 L2432.3 783.4 L2434.3 784.0 L2436.3 783.5 L2438.4 783.1 L2440.5 782.7 L2442.6 782.4 L2444.8 783.6 L2447.0 784.7 L2449.3 785.8 L2451.7 786.8 L2454.0 787.8 L2456.6 788.6 L2459.1 788.9 L2461.6 789.3 L2463.6 789.5 L2465.6 789.7 L2467.6 789.5 L2469.6 788.5 L2471.7 787.5 L2473.7 786.5 L2475.8 785.4 L2477.8 784.4 L2479.9 786.1 L2481.9 787.9 L2484.0 789.8 L2486.0 791.7 L2488.0 791.1 L2490.0 790.3 L2492.0 789.6 L2494.0 788.8 L2496.0 788.1 L2498.0 787.4 L2500.0 788.2 L2502.0 789.5 L2504.1 790.9 L2506.1 792.3 L2508.2 793.6 L2510.3 795.0 L2512.3 794.6 L2514.4 793.8 L2516.4 793.0 L2518.5 792.2 L2520.5 794.0 L2522.5 796.6 L2524.5 799.2 L2526.5 799.2 L2529.0 798.7 L2531.6 798.2 L2534.1 797.6 L2536.4 797.2 L2538.7 798.1 L2541.0 799.5 L2543.1 800.9 L2545.2 802.3 L2547.3 803.6 L2549.3 803.9 L2551.3 803.7 L2553.2 803.5 L2556.0 803.3 L2558.7 803.1 L2561.2 805.2 L2563.7 808.4 L2565.9 809.4 L2568.1 808.6 L2572.0 806.8 L2575.0 806.3 L2577.1 804.9 L2578.6 803.0 L2580.0 801.4 L2581.6 801.7 L2583.7 803.1 L2586.4 803.1 L2589.3 802.0 L2590.8 802.5 L2592.4 805.0 L2594.0 807.8 L2595.6 810.6 L2597.2 813.4 L2598.8 815.5 L2600.4 815.6 L2602.0 815.6 L2605.1 815.8 L2608.1 817.5 L2611.1 819.2 L2614.3 822.7 L2617.5 826.0 L2621.0 828.5 L2624.7 828.4 L2626.7 826.8 L2628.7 825.2 L2630.7 823.3 L2632.8 822.4 L2634.8 821.4 L2636.9 820.4 L2638.9 819.2 L2641.0 818.1 L2643.0 817.3 L2645.0 817.0 L2646.9 816.4 L2648.9 815.9 L2650.8 815.2 L2652.7 814.4 L2654.6 812.0 L2656.5 809.6 L2658.4 807.1 L2660.3 805.4 L2662.2 804.9 L2664.1 804.4 L2666.1 804.2 L2668.0 803.5 L2669.9 802.9 L2671.8 802.3 L2675.4 800.3 L2679.1 797.1 L2682.9 794.6 L2685.1 794.9 L2687.2 795.1 L2689.6 795.6 L2692.0 796.0 L2694.8 796.5 L2697.6 794.6 L2699.8 793.3 L2701.9 791.9 L2704.0 790.6 L2706.3 791.6 L2708.5 793.7 L2710.8 795.2 L2713.0 795.0 L2715.3 794.8 L2717.6 793.7 L2719.7 792.4 L2721.9 791.1 L2724.1 791.9 L2727.0 793.9 L2730.0 795.9 L2732.7 797.1 L2735.3 797.6 L2737.9 798.2 L2740.4 798.9 L2742.8 799.6 L2745.2 799.0 L2747.4 798.3 L2749.7 797.7 L2751.8 800.0 L2754.0 802.3 L2756.0 802.8 L2758.0 801.7 L2761.4 799.5 L2764.0 799.6 L2766.3 799.9 L2768.9 800.3 L2772.3 801.3 L2774.7 800.4 L2777.0 799.4 L2779.2 798.7 L2781.4 797.9 L2783.5 797.2 L2785.6 798.2 L2787.6 799.6 L2789.6 801.1 L2791.6 802.5 L2793.8 804.1 L2796.1 805.8 L2798.3 805.5 L2800.5 804.9 L2802.7 804.2 L2804.9 803.6 L2807.2 803.0 L2809.4 803.3 L2811.4 803.8 L2813.4 804.2 L2815.4 804.6 L2817.5 805.1 L2819.6 805.2 L2821.8 805.3 L2824.0 805.4 L2826.3 805.2 L2828.7 805.6 L2832.1 806.7 L2834.7 807.2 L2837.0 807.6 L2839.6 808.2 L2843.0 806.6 L2845.1 805.2 L2847.1 803.9 L2849.4 805.2 L2851.7 806.8 L2854.1 808.6 L2856.4 810.5 L2858.9 812.0 L2861.3 813.1 L2863.8 814.2 L2866.2 815.2 L2868.6 816.0 L2871.0 815.9 L2873.3 814.7 L2875.6 813.5 L2877.9 812.0 L2880.1 810.8 L2882.4 810.4 L2884.7 810.0 L2887.0 809.7 L2889.3 809.3 L2891.7 809.0 L2894.0 810.1 L2896.5 811.8 L2899.0 812.9 L2901.6 812.5 L2904.2 812.0 L2906.9 811.8 L2909.6 811.5 L2912.4 813.0 L2915.2 814.7 L2918.0 816.4 L2920.8 818.1 L2923.6 816.9 L2926.4 815.0 L2929.2 815.2 L2932.0 818.1 L2934.7 820.7 L2937.5 821.3 L2940.2 822.0 L2942.9 822.7 L2945.7 823.3 L2948.4 822.5 L2951.1 821.7 L2953.9 820.8 L2956.6 819.9 L2959.4 820.5 L2962.2 823.4 L2965.0 825.3 L2967.7 823.6 L2970.3 822.0 L2972.8 820.6 L2975.2 820.5 L2977.7 820.3 L2980.2 820.0 L2982.9 820.6 L2985.7 822.3 L2987.8 823.7 L2990.0 824.6 L2992.1 823.4 L2994.7 822.1 L2997.4 820.8 L3000.0 819.4 L3002.5 818.5 L3004.9 819.7 L3007.4 820.9 L3009.8 822.1 L3012.1 823.2 L3014.4 824.4 L3016.7 824.3 L3019.0 822.9 L3021.3 821.6 L3023.3 821.4 L3025.4 822.7 L3027.5 824.1 L3029.5 825.5 L3031.6 826.8 L3033.7 827.0 L3035.8 825.7 L3037.9 824.5 L3040.0 823.2 L3042.2 821.9 L3044.3 823.2 L3046.4 824.7 L3048.5 826.0 L3050.5 827.4 L3052.6 828.3 L3054.6 826.8 L3056.7 825.3 L3058.7 824.3 L3061.0 824.5 L3063.2 824.7 L3065.5 824.9 L3067.7 825.1 L3070.0 825.3 L3072.1 825.7 L3074.1 826.6 L3076.2 827.5 L3078.3 828.4 L3080.4 829.3 L3082.4 829.3 L3084.4 829.3 L3086.4 829.3 L3088.4 829.3 L3090.4 829.3 L3092.8 829.1 L3095.2 827.6 L3097.6 826.1 L3100.0 824.6 L3102.3 825.1 L3104.6 826.0 L3106.9 827.0 L3109.2 827.9 L3111.4 828.9 L3113.5 829.6 L3115.7 827.8 L3117.9 826.0 L3119.9 825.6 L3121.9 826.3 L3124.0 827.0 L3126.0 827.7 L3128.5 828.7 L3131.1 828.9 L3133.6 828.0 L3135.9 827.3 L3138.3 826.7 L3140.7 826.6 L3142.9 828.6 L3145.1 830.7 L3147.2 831.7 L3149.3 831.0 L3151.3 830.4 L3153.3 829.9 L3156.1 831.9 L3158.9 833.9 L3161.5 835.5 L3164.0 834.0 L3166.3 832.2 L3168.6 830.9 L3170.7 831.7 L3172.7 832.5 L3176.4 833.6 L3179.5 833.6 L3182.0 832.2 L3184.0 831.3" fill="none" stroke="#1eab3a" stroke-width="11.5" stroke-linejoin="round" stroke-linecap="round"/>
<path d="M1956.0 896.0 L1956.3 897.7 L1956.7 900.0 L1957.2 902.8 L1957.8 905.6 L1958.4 908.1 L1959.0 910.0 L1959.6 911.6 L1960.2 913.3 L1960.8 914.8 L1961.5 915.4 L1962.2 915.0 L1963.0 913.0 L1963.8 909.4 L1964.2 907.0 L1964.7 904.6 L1965.0 902.6 L1965.3 900.7 L1965.6 898.7 L1965.9 896.4 L1966.2 894.0 L1966.5 891.7 L1966.9 889.1 L1967.2 886.4 L1967.6 883.8 L1967.9 881.6 L1968.1 879.4 L1968.4 877.2 L1968.7 875.0 L1968.9 873.0 L1969.2 871.0 L1969.4 869.0 L1969.7 867.0 L1969.9 865.0 L1970.2 862.7 L1970.4 860.5 L1970.7 858.2 L1970.9 855.9 L1971.2 853.7 L1971.4 851.6 L1971.6 849.6 L1971.9 847.5 L1972.1 845.5 L1972.3 843.4 L1972.5 841.4 L1972.8 839.2 L1973.0 837.1 L1973.2 835.0 L1973.5 832.8 L1973.7 830.7 L1974.0 828.6 L1974.2 826.4 L1974.4 824.2 L1974.7 822.1 L1974.9 819.9 L1975.2 817.8 L1975.4 815.6 L1975.7 813.5 L1976.0 811.4 L1976.2 809.3 L1976.5 807.2 L1976.7 805.1 L1977.0 803.0 L1977.3 800.9 L1977.6 798.8 L1977.8 796.6 L1978.1 794.5 L1978.4 792.4 L1978.7 790.3 L1979.0 788.1 L1979.3 785.9 L1979.5 783.7 L1979.8 781.4 L1980.1 779.2 L1980.4 777.0 L1980.7 774.8 L1981.1 772.6 L1981.4 770.4 L1981.7 768.1 L1982.0 765.9 L1982.3 763.7 L1982.6 761.5 L1982.9 759.3 L1983.2 757.2 L1983.5 755.0 L1983.8 752.8 L1984.2 750.6 L1984.5 748.6 L1984.8 746.5 L1985.1 744.4 L1985.4 742.4 L1985.7 740.3 L1986.0 738.3 L1986.4 736.0 L1986.7 733.8 L1987.1 731.5 L1987.4 729.3 L1987.8 727.0 L1988.1 725.0 L1988.5 722.9 L1988.8 720.9 L1989.2 718.8 L1989.5 716.8 L1989.9 714.4 L1990.3 712.0 L1990.7 709.6 L1991.1 707.2 L1991.5 705.0 L1992.0 702.7 L1992.4 700.5 L1992.8 698.3 L1993.2 696.3 L1993.6 694.2 L1994.0 692.2 L1994.4 690.1 L1995.0 687.7 L1995.6 685.2 L1996.1 682.7 L1996.8 680.5 L1997.4 678.2 L1998.0 676.0 L1998.6 674.1 L1999.3 672.2 L1999.9 670.2 L2000.9 667.8 L2001.9 665.4 L2002.9 663.4 L2004.0 661.4 L2005.0 659.6 L2006.1 657.8 L2007.3 656.1 L2008.5 654.4 L2009.7 652.7 L2011.0 651.0 L2012.4 649.3 L2013.8 647.6 L2015.2 646.0 L2016.7 644.4 L2018.2 643.0 L2019.8 641.5 L2021.4 640.1 L2023.0 638.7 L2024.7 637.5 L2026.4 636.3 L2028.2 635.1 L2030.0 633.3 L2031.8 632.9 L2033.6 632.5 L2037.1 631.4 L2040.8 627.8 L2042.8 626.6 L2044.8 625.8 L2047.2 625.0 L2049.5 624.3 L2052.2 624.1 L2055.0 624.9 L2057.3 625.7 L2059.6 626.5 L2061.8 626.6 L2063.8 626.4 L2065.9 626.2 L2067.9 625.4 L2069.9 624.3 L2072.1 623.3 L2074.2 622.2 L2076.4 621.2 L2078.6 620.1 L2080.7 620.8 L2082.9 621.5 L2085.1 622.3 L2087.2 623.1 L2089.2 621.7 L2091.2 620.3 L2093.2 618.9 L2095.2 619.4 L2097.5 620.0 L2099.7 620.6 L2102.0 619.6 L2104.5 618.7 L2107.0 619.3 L2110.5 621.5 L2113.4 623.6 L2116.5 623.0 L2120.4 621.7 L2123.2 620.4 L2126.0 620.8 L2128.5 621.2 L2131.0 621.7 L2133.6 621.8 L2135.8 621.5 L2138.1 621.3 L2140.3 621.1 L2142.6 620.9 L2144.6 620.5 L2146.6 619.5 L2148.5 618.5 L2150.5 617.5 L2152.5 616.5 L2154.5 616.5 L2156.6 617.1 L2158.6 617.7 L2160.7 618.3 L2162.7 616.9 L2164.7 614.7 L2166.7 612.6 L2168.8 611.7 L2170.8 612.4 L2172.8 613.2 L2175.1 614.0 L2177.4 614.9 L2179.7 612.3 L2182.0 609.7 L2184.1 609.0 L2186.2 609.4 L2188.4 609.8 L2190.5 610.3 L2192.5 610.7 L2194.6 611.1 L2196.6 610.2 L2198.6 608.9 L2200.6 607.6 L2202.6 606.2 L2204.6 606.1 L2206.6 606.6 L2209.2 607.4 L2211.8 608.1 L2214.4 608.5 L2217.0 608.8 L2219.6 609.0 L2222.2 608.8 L2224.8 608.5 L2227.4 608.2 L2230.0 607.8 L2232.6 607.6 L2235.3 606.4 L2237.9 605.2 L2240.5 604.1 L2243.1 603.0 L2245.7 603.4 L2248.3 604.4 L2251.0 605.5 L2253.6 605.3 L2256.2 604.3 L2258.8 603.3 L2261.4 603.7 L2264.0 604.9 L2266.6 606.1 L2269.2 607.3 L2271.8 608.5 L2274.4 608.8 L2277.0 608.6 L2279.0 608.4 L2281.1 608.3 L2283.1 608.1 L2285.2 607.9 L2287.3 607.4 L2289.4 606.6 L2291.6 605.7 L2293.7 605.2 L2295.8 606.5 L2298.0 607.8 L2300.1 609.1 L2302.2 608.6 L2304.3 607.7 L2306.3 606.9 L2308.4 606.0 L2310.4 605.1 L2312.9 604.1 L2315.3 605.1 L2317.8 606.0 L2319.9 606.7 L2321.9 607.5 L2324.0 608.2 L2326.3 607.4 L2328.7 606.2 L2332.1 604.1 L2334.7 602.2 L2337.0 600.3 L2339.6 600.7 L2343.0 601.3 L2345.0 601.6 L2346.9 601.0 L2348.9 600.0 L2351.0 599.1 L2353.1 597.4 L2355.2 594.5 L2357.6 591.3 L2359.9 588.1 L2362.5 587.8 L2365.1 587.6 L2367.1 587.6 L2369.0 587.5 L2371.0 587.3 L2373.2 587.0 L2375.5 586.7 L2377.7 586.2 L2379.6 585.6 L2381.5 585.0 L2383.4 583.9 L2385.3 582.2 L2387.3 580.4 L2389.3 578.6 L2391.3 576.8 L2393.3 576.1 L2395.4 577.1 L2397.5 578.2 L2399.6 578.0 L2401.6 576.0 L2403.7 574.0 L2405.8 572.1 L2407.9 570.2 L2409.9 569.0 L2412.0 568.4 L2414.0 567.9 L2416.0 567.4 L2418.0 567.2 L2420.0 568.0 L2422.0 568.7 L2424.0 569.5 L2426.0 568.3 L2428.1 567.0 L2430.2 565.7 L2432.3 565.2 L2434.3 565.8 L2436.4 566.5 L2438.5 567.1 L2440.6 567.1 L2442.6 565.4 L2444.6 563.7 L2446.6 562.1 L2448.7 561.0 L2450.7 561.4 L2453.2 562.0 L2455.7 562.6 L2458.2 563.2 L2460.5 563.8 L2462.7 562.3 L2465.0 560.6 L2467.0 559.2 L2469.0 557.8 L2470.9 557.5 L2473.6 558.7 L2476.2 559.1 L2478.6 557.7 L2480.9 556.4 L2483.2 556.9 L2485.4 557.4 L2487.5 557.8 L2489.7 558.3 L2491.8 556.9 L2494.0 555.3 L2496.2 553.8 L2498.4 552.7 L2500.6 553.2 L2502.7 553.8 L2504.8 554.2 L2506.9 554.7 L2508.9 555.0 L2510.9 553.7 L2512.8 551.6 L2514.6 549.5 L2516.3 547.2 L2518.0 547.1 L2519.5 546.5 L2520.9 545.9 L2522.2 544.5 L2523.4 541.0 L2524.1 538.3 L2524.9 535.7 L2525.6 533.0 L2526.3 530.3 L2527.0 528.1 L2527.7 527.2 L2528.7 525.9 L2529.8 524.7 L2530.9 522.0 L2532.0 518.4 L2533.1 515.3 L2534.3 512.2 L2535.3 510.9 L2536.4 509.9 L2538.6 508.0 L2540.8 506.4 L2543.3 503.4 L2546.0 499.6 L2549.2 496.5 L2552.7 494.0 L2556.5 493.5 L2560.3 493.1 L2563.8 492.3 L2567.0 491.6 L2569.7 490.4 L2571.9 486.5 L2574.0 481.6 L2576.1 478.5 L2578.3 476.0 L2581.0 474.1 L2584.1 472.9 L2587.4 472.3 L2590.9 472.0 L2594.5 471.5 L2598.2 470.6 L2602.0 469.6 L2604.0 469.0 L2606.0 468.0 L2608.2 466.7 L2610.4 465.3 L2612.6 464.0 L2614.8 462.7 L2616.9 461.5 L2619.1 460.8 L2622.9 460.2 L2626.0 460.0 L2628.3 460.8 L2629.9 462.5 L2631.1 465.0 L2632.1 467.5 L2633.0 469.3 L2634.0 470.0 L2635.1 469.5 L2636.1 466.7 L2637.0 462.8 L2637.9 458.7 L2638.9 458.4 L2640.0 458.5 L2641.2 459.1 L2642.5 458.7 L2643.9 458.0 L2645.3 457.6 L2646.6 457.9 L2648.0 461.2 L2649.3 465.7 L2650.6 471.3 L2651.2 473.0 L2651.9 474.6 L2652.5 476.4 L2653.2 478.1 L2653.9 479.9 L2654.6 481.2 L2655.3 482.2 L2656.0 483.2 L2656.8 484.6 L2657.5 488.0 L2658.3 491.6 L2659.1 495.2 L2659.9 497.5 L2660.7 499.7 L2661.5 501.8 L2662.4 503.9 L2663.3 505.8 L2664.1 507.9 L2665.1 509.9 L2666.0 512.0 L2667.9 514.8 L2669.8 516.8 L2671.8 518.5 L2674.0 520.3 L2676.3 522.9 L2679.0 525.3 L2682.1 527.3 L2685.7 527.4 L2689.5 527.0 L2693.3 526.5 L2696.9 527.0 L2700.0 528.7 L2702.6 530.5 L2704.9 532.3 L2706.9 534.1 L2708.8 535.8 L2710.8 537.0 L2713.0 537.6 L2715.5 537.0 L2718.1 535.6 L2720.8 533.9 L2723.4 531.2 L2725.8 528.9 L2728.0 528.5 L2729.8 530.1 L2731.3 532.4 L2732.6 534.4 L2733.9 535.7 L2735.3 537.0 L2737.0 539.0 L2738.9 541.1 L2740.9 542.9 L2742.9 544.7 L2745.3 546.4 L2747.9 546.2 L2751.0 545.6 L2754.3 546.8 L2757.7 548.8 L2761.4 549.2 L2763.5 548.4 L2765.7 547.5 L2768.2 546.5 L2770.8 546.7 L2772.9 547.5 L2774.9 548.4 L2777.0 549.3 L2779.0 550.1 L2781.0 550.9 L2783.0 551.0 L2785.0 549.8 L2787.5 548.4 L2789.9 547.0 L2792.4 547.1 L2794.8 548.7 L2796.9 550.1 L2799.1 551.5 L2801.2 551.5 L2803.3 550.7 L2805.4 550.0 L2807.5 549.2 L2809.6 548.5 L2811.8 547.7 L2813.9 547.6 L2816.0 548.5 L2818.3 549.5 L2820.7 550.5 L2823.1 551.5 L2825.5 551.5 L2828.0 550.5 L2830.5 549.5 L2833.0 548.9 L2835.4 549.5 L2837.8 550.1 L2840.5 547.3 L2842.2 544.2 L2843.9 541.5 L2846.8 541.1 L2849.4 541.4 L2852.0 541.7 L2854.0 542.1 L2856.0 541.9 L2858.0 540.7 L2860.0 539.5 L2862.0 538.4 L2864.0 538.8 L2866.0 539.6 L2868.1 540.4 L2870.1 540.8 L2872.3 540.7 L2874.6 540.7 L2876.8 540.6 L2879.1 540.6 L2881.3 540.5 L2883.6 540.4 L2885.9 540.1 L2888.2 539.8 L2890.5 539.2 L2892.8 538.1 L2895.0 537.2 L2897.2 536.3 L2899.3 536.4 L2901.5 537.0 L2903.7 537.6 L2906.0 538.4 L2908.3 538.4 L2910.7 537.8 L2913.0 537.1 L2915.5 536.6 L2918.1 537.0 L2920.6 538.2 L2922.8 539.4 L2925.0 538.8 L2927.2 538.3 L2929.2 538.8 L2931.1 540.1 L2933.1 541.3 L2936.0 543.2 L2938.8 544.3 L2941.7 543.4 L2944.6 542.4 L2946.8 541.5 L2948.9 540.8 L2951.0 542.5 L2953.2 543.9 L2955.5 545.4 L2957.7 546.0 L2960.0 543.7 L2962.2 541.4 L2964.4 539.7 L2966.7 538.9 L2969.0 538.2 L2971.3 538.8 L2973.7 539.6 L2976.1 540.4 L2978.4 541.3 L2981.0 540.6 L2983.5 538.4 L2986.0 536.3 L2988.0 536.0 L2990.0 535.8 L2992.0 535.7 L2994.0 535.5 L2996.1 535.6 L2998.2 535.6 L3000.4 535.9 L3002.5 536.2 L3004.7 536.7 L3006.9 537.2 L3009.1 537.9 L3011.3 538.9 L3013.6 540.2 L3015.9 541.4 L3018.2 542.6 L3020.5 542.9 L3022.9 542.7 L3025.3 542.5 L3027.7 543.7 L3030.1 544.9 L3032.2 545.9 L3034.2 546.9 L3036.2 547.8 L3038.3 548.1 L3040.3 547.6 L3042.4 547.0 L3044.6 546.4 L3046.7 545.8 L3048.9 546.8 L3051.0 548.9 L3053.3 550.6 L3055.7 549.6 L3058.0 548.5 L3060.3 547.5 L3062.7 546.7 L3064.8 548.1 L3066.9 549.6 L3069.0 550.3 L3071.1 549.0 L3073.2 547.7 L3075.3 547.8 L3077.5 549.6 L3079.7 551.5 L3081.9 552.8 L3084.1 551.6 L3086.2 550.5 L3088.4 549.4 L3090.6 548.3 L3092.8 549.0 L3095.0 549.9 L3097.2 550.8 L3099.4 551.7 L3101.6 552.6 L3103.7 552.1 L3105.8 551.4 L3107.9 550.8 L3110.0 550.1 L3112.2 549.5 L3114.3 550.1 L3116.6 551.0 L3119.0 551.9 L3121.3 551.8 L3123.7 551.3 L3126.0 550.7 L3128.3 550.1 L3130.5 550.1 L3132.8 551.1 L3135.1 552.1 L3137.3 553.1 L3139.6 552.2 L3141.9 551.2 L3144.2 550.2 L3146.5 549.2 L3148.7 548.5 L3150.9 549.2 L3153.1 549.9 L3155.3 550.5 L3157.5 551.2 L3159.7 550.3 L3162.2 549.4 L3164.6 548.5 L3167.1 547.5 L3169.6 546.6 L3171.7 547.0 L3173.7 547.7 L3175.8 548.4 L3177.9 549.1 L3179.9 549.8 L3182.0 550.6 L3184.0 550.9" fill="none" stroke="#1b1c94" stroke-width="11.0" stroke-linejoin="round" stroke-linecap="round"/>
<path d="M1956.5 147.0 L1956.8 149.0 L1957.1 151.1 L1957.4 153.1 L1957.8 155.2 L1958.1 157.2 L1958.4 159.2 L1958.7 161.3 L1959.0 163.3 L1959.3 165.3 L1959.6 167.3 L1959.9 169.3 L1960.3 171.4 L1960.6 173.5 L1960.9 175.6 L1961.2 177.7 L1961.5 179.7 L1961.9 181.8 L1962.2 183.9 L1962.5 186.0 L1962.8 188.1 L1963.1 190.1 L1963.4 192.1 L1963.8 194.1 L1964.1 196.2 L1964.4 198.2 L1964.7 200.2 L1965.0 202.2 L1965.3 204.2 L1965.6 206.2 L1965.9 208.2 L1966.2 210.2 L1966.5 212.2 L1966.8 214.2 L1967.1 216.2 L1967.4 218.2 L1967.7 220.2 L1967.9 222.2 L1968.2 224.2 L1968.5 226.3 L1968.8 228.4 L1969.1 230.5 L1969.4 232.6 L1969.7 234.7 L1970.0 236.8 L1970.3 238.9 L1970.6 241.0 L1970.9 243.0 L1971.1 245.0 L1971.4 247.0 L1971.6 249.0 L1971.9 251.0 L1972.1 252.9 L1972.4 254.9 L1972.6 256.9 L1972.9 259.0 L1973.1 261.0 L1973.4 263.0 L1973.6 265.1 L1973.9 267.1 L1974.1 269.1 L1974.3 271.2 L1974.6 273.2 L1974.8 275.2 L1975.0 277.2 L1975.3 279.3 L1975.5 281.3 L1975.7 283.3 L1976.0 285.4 L1976.2 287.4 L1976.4 289.4 L1976.7 291.4 L1976.9 293.4 L1977.1 295.4 L1977.3 297.4 L1977.6 299.4 L1977.8 301.4 L1978.0 303.4 L1978.3 305.4 L1978.5 307.6 L1978.8 309.7 L1979.0 311.9 L1979.3 314.1 L1979.6 316.3 L1979.8 318.5 L1980.1 320.7 L1980.4 322.7 L1980.6 324.8 L1980.9 326.8 L1981.2 328.9 L1981.5 330.9 L1981.7 333.0 L1982.0 335.0 L1982.3 337.3 L1982.7 339.5 L1983.0 341.8 L1983.3 344.1 L1983.6 346.3 L1984.0 348.6 L1984.3 350.8 L1984.6 353.0 L1985.0 355.2 L1985.3 357.4 L1985.6 359.6 L1986.0 361.8 L1986.3 363.9 L1986.6 366.0 L1987.0 368.0 L1987.3 370.1 L1987.6 372.2 L1988.0 374.3 L1988.4 376.6 L1988.8 379.0 L1989.2 381.3 L1989.6 383.7 L1990.0 386.0 L1990.4 388.1 L1990.8 390.3 L1991.2 392.4 L1991.6 394.5 L1992.0 396.6 L1992.5 399.0 L1993.0 401.3 L1993.5 403.7 L1994.0 406.0 L1994.5 408.0 L1995.0 409.9 L1995.5 411.9 L1996.0 413.9 L1996.7 416.1 L1997.3 418.2 L1998.0 420.4 L1999.0 423.2 L2000.0 425.9 L2001.0 428.3 L2002.0 430.6 L2003.0 432.8 L2004.0 434.9 L2005.0 436.9 L2006.0 439.0 L2006.9 440.9 L2007.9 442.8 L2009.6 446.1 L2011.3 448.9 L2013.2 451.4 L2015.4 453.6 L2018.0 455.6 L2021.2 457.4 L2024.8 458.8 L2026.8 460.8 L2028.8 462.4 L2030.8 461.9 L2032.9 461.3 L2034.9 460.7 L2037.0 460.1 L2039.0 459.6 L2041.0 460.1 L2044.8 460.9 L2048.6 461.7 L2052.4 464.0 L2056.3 466.3 L2058.4 467.1 L2060.5 467.3 L2062.7 467.4 L2065.0 467.5 L2067.5 466.2 L2069.9 464.5 L2072.6 462.3 L2075.2 460.3 L2077.9 460.8 L2080.7 461.4 L2083.5 461.9 L2086.4 460.6 L2088.3 459.0 L2090.2 457.4 L2092.2 455.7 L2095.1 453.8 L2098.0 454.8 L2100.9 456.2 L2103.8 457.6 L2106.7 457.0 L2109.7 456.3 L2112.6 455.7 L2115.6 455.7 L2117.7 457.6 L2119.7 459.4 L2121.8 459.9 L2123.9 457.9 L2126.1 456.0 L2128.2 454.1 L2130.5 454.9 L2132.7 456.0 L2135.0 457.1 L2137.4 456.9 L2139.8 455.2 L2142.2 453.5 L2144.2 452.0 L2146.1 451.9 L2148.0 452.0 L2149.9 452.1 L2151.9 452.1 L2153.9 451.2 L2155.8 449.9 L2157.8 448.6 L2159.8 447.2 L2161.9 445.9 L2163.9 445.2 L2165.9 444.6 L2167.9 444.0 L2169.9 444.3 L2172.0 445.1 L2174.0 445.9 L2176.0 446.0 L2178.0 443.8 L2180.0 441.7 L2182.0 440.2 L2184.0 440.9 L2186.0 441.6 L2188.0 442.2 L2190.0 442.9 L2192.0 443.6 L2194.0 443.8 L2196.0 441.8 L2198.0 439.7 L2200.0 437.7 L2202.0 438.0 L2204.0 438.7 L2206.0 439.3 L2208.0 440.0 L2210.0 440.7 L2212.0 441.4 L2214.0 441.1 L2216.0 440.0 L2218.0 438.9 L2220.0 438.2 L2222.0 438.2 L2224.7 437.9 L2227.3 437.7 L2230.0 437.4 L2232.0 437.0 L2234.0 436.3 L2236.0 435.6 L2238.0 435.0 L2240.0 434.9 L2242.1 435.3 L2244.1 435.6 L2246.1 436.0 L2248.1 436.3 L2250.1 436.6 L2252.2 435.4 L2254.2 434.1 L2256.2 432.9 L2258.1 431.8 L2260.1 432.4 L2262.1 432.9 L2264.7 433.7 L2267.2 433.8 L2269.8 433.0 L2272.2 432.4 L2274.6 431.8 L2277.0 432.5 L2279.3 433.2 L2281.6 432.3 L2284.0 430.8 L2286.2 429.5 L2288.5 428.2 L2290.7 426.9 L2292.9 425.7 L2295.1 426.4 L2297.2 427.6 L2299.3 428.8 L2301.3 429.9 L2303.4 431.1 L2306.2 432.6 L2309.0 431.3 L2311.5 429.9 L2314.0 428.5 L2316.1 427.1 L2318.2 425.6 L2321.7 426.2 L2324.6 426.5 L2327.3 424.3 L2330.0 421.6 L2333.0 421.7 L2336.2 423.6 L2339.5 426.0 L2342.8 428.7 L2346.0 430.2 L2349.1 431.9 L2352.0 433.7 L2354.3 434.7 L2356.0 436.0 L2357.6 437.4 L2359.4 438.8 L2362.1 441.7 L2364.1 443.3 L2366.0 444.8 L2368.7 446.4 L2371.5 447.0 L2373.7 446.6 L2376.0 446.2 L2378.3 445.8 L2380.8 445.4 L2383.3 446.7 L2385.8 448.0 L2388.4 449.2 L2391.0 450.4 L2393.6 451.6 L2396.2 452.0 L2398.7 452.4 L2401.2 452.7 L2403.5 452.1 L2405.7 451.5 L2408.0 450.9 L2410.9 450.1 L2413.8 449.7 L2416.4 449.7 L2418.9 449.7 L2421.4 449.6 L2423.8 449.2 L2426.3 448.6 L2428.9 448.0 L2431.6 447.3 L2434.4 447.0 L2436.6 448.1 L2438.8 449.2 L2441.0 450.2 L2443.0 451.3 L2445.0 452.3 L2447.1 452.5 L2449.1 451.7 L2451.4 450.8 L2453.8 449.9 L2456.1 449.0 L2458.5 448.1 L2461.0 449.4 L2463.5 450.8 L2465.9 452.1 L2468.4 451.3 L2470.9 450.4 L2473.3 449.6 L2475.7 449.1 L2478.2 450.1 L2480.4 451.0 L2482.6 451.8 L2484.8 452.6 L2487.0 453.5 L2489.3 451.5 L2491.7 449.4 L2494.0 448.6 L2496.6 450.2 L2499.1 451.9 L2502.9 452.6 L2505.8 451.7 L2508.0 450.9 L2509.9 450.2 L2512.0 449.9 L2514.1 450.3 L2515.8 450.1 L2517.3 449.7 L2518.6 448.5 L2519.8 447.4 L2521.0 447.4 L2522.0 448.3 L2522.9 449.9 L2523.6 452.0 L2524.3 457.6 L2525.1 462.8 L2526.0 464.5 L2526.5 465.3 L2527.0 466.2 L2527.5 467.2 L2528.0 469.4 L2528.6 472.8 L2529.1 476.3 L2529.7 479.8 L2530.3 483.2 L2530.9 484.4 L2531.6 485.5 L2533.0 487.3 L2534.6 490.8 L2536.4 494.9 L2538.3 498.6 L2540.3 501.4 L2542.2 502.7 L2544.0 503.8 L2545.7 504.7 L2547.3 506.4 L2548.9 508.6 L2550.5 510.6 L2552.2 512.6 L2554.0 514.5 L2556.0 514.4 L2558.0 514.4 L2560.2 514.2 L2562.4 513.9 L2564.7 513.4 L2567.0 514.2 L2569.5 515.1 L2572.1 515.6 L2574.8 515.9 L2577.4 515.7 L2579.9 514.9 L2582.0 514.4 L2583.7 513.9 L2585.0 513.6 L2586.1 513.6 L2587.2 513.6 L2588.5 513.4 L2590.0 512.7 L2591.8 511.2 L2593.8 509.1 L2595.9 508.4 L2598.2 508.3 L2600.5 508.6 L2603.0 509.6 L2605.7 511.2 L2608.8 512.1 L2611.9 513.5 L2615.0 516.0 L2617.8 518.7 L2620.0 520.5 L2621.6 521.0 L2622.6 520.7 L2623.4 519.8 L2624.0 518.8 L2624.8 517.9 L2626.0 517.5 L2627.6 517.7 L2629.3 518.2 L2631.2 518.8 L2633.2 519.4 L2635.2 519.0 L2637.0 518.3 L2638.8 517.1 L2640.5 515.8 L2642.2 514.1 L2643.9 512.2 L2645.5 511.2 L2647.0 510.6 L2648.3 509.5 L2649.5 508.1 L2650.6 505.0 L2651.7 497.4 L2652.8 494.5 L2654.0 493.3 L2655.3 492.5 L2656.6 492.1 L2657.9 491.4 L2659.2 489.7 L2660.6 487.9 L2662.0 486.0 L2663.4 483.8 L2664.9 481.8 L2666.4 479.6 L2667.9 477.8 L2669.4 476.5 L2671.0 475.1 L2672.6 473.8 L2674.3 472.3 L2675.9 471.8 L2677.6 471.8 L2679.3 471.8 L2681.0 470.2 L2682.7 467.4 L2684.5 464.2 L2686.3 461.0 L2688.0 458.4 L2689.6 458.1 L2691.0 458.3 L2692.0 459.5 L2692.7 461.8 L2693.3 464.7 L2693.9 464.5 L2694.8 464.3 L2696.0 463.6 L2697.8 463.6 L2699.9 464.2 L2702.3 464.5 L2704.7 464.5 L2707.0 462.3 L2709.0 461.0 L2710.6 460.5 L2711.9 460.6 L2713.1 460.9 L2714.3 461.4 L2715.6 463.1 L2717.0 464.4 L2718.6 465.2 L2720.1 465.7 L2721.8 466.0 L2723.6 465.9 L2725.7 464.7 L2728.0 463.9 L2730.8 463.5 L2733.9 463.6 L2737.2 464.3 L2740.7 465.2 L2744.0 465.6 L2747.0 465.8 L2749.7 466.3 L2752.3 466.1 L2754.8 464.6 L2757.1 460.5 L2759.5 456.3 L2762.0 456.5 L2764.6 456.9 L2767.2 454.9 L2769.8 451.1 L2772.4 447.5 L2774.8 444.6 L2777.0 442.9 L2778.9 443.1 L2780.7 444.0 L2782.2 445.5 L2783.8 446.9 L2785.3 448.9 L2787.0 450.0 L2788.6 450.1 L2790.0 449.6 L2791.5 446.9 L2793.2 444.3 L2795.3 442.3 L2798.0 442.0 L2801.4 445.1 L2803.5 447.4 L2805.5 449.2 L2807.7 450.1 L2809.9 451.0 L2812.3 451.1 L2814.6 450.9 L2817.0 450.6 L2819.4 450.3 L2821.7 452.3 L2824.0 454.5 L2826.2 456.3 L2828.4 458.1 L2830.5 459.7 L2832.7 460.4 L2834.8 460.8 L2837.0 461.2 L2839.3 461.5 L2841.6 461.9 L2844.0 462.2 L2846.5 462.6 L2849.2 463.0 L2852.0 463.4 L2854.0 463.1 L2856.1 461.7 L2858.1 460.4 L2860.3 459.0 L2862.6 459.1 L2864.8 459.2 L2867.1 459.4 L2869.5 459.5 L2871.8 460.1 L2874.2 462.0 L2876.7 464.0 L2879.1 465.2 L2881.6 463.4 L2884.1 461.6 L2886.5 461.1 L2889.0 462.5 L2891.5 463.8 L2894.0 465.2 L2896.5 466.4 L2899.0 466.5 L2901.5 464.2 L2904.1 461.6 L2906.7 460.2 L2909.2 462.7 L2911.8 465.1 L2914.4 463.2 L2917.1 460.6 L2919.0 458.6 L2921.0 458.2 L2923.0 458.7 L2925.0 459.3 L2927.0 459.8 L2929.0 460.3 L2931.0 460.4 L2933.0 459.3 L2935.0 458.1 L2937.0 457.0 L2939.0 455.8 L2941.0 455.3 L2943.6 454.8 L2946.1 454.2 L2948.7 453.7 L2951.1 454.0 L2953.6 454.7 L2956.0 455.3 L2958.5 455.9 L2961.0 454.8 L2963.4 453.1 L2966.1 451.4 L2968.7 449.7 L2971.3 449.7 L2973.5 450.7 L2975.7 451.7 L2977.8 452.7 L2980.0 453.7 L2982.0 454.6 L2984.0 453.1 L2986.0 451.2 L2988.0 449.3 L2990.0 447.3 L2992.4 447.8 L2994.7 449.5 L2997.1 451.1 L2999.5 451.4 L3001.8 449.9 L3004.1 448.5 L3006.3 447.2 L3008.5 445.8 L3010.8 444.8 L3013.0 445.6 L3015.3 446.4 L3017.3 447.1 L3019.3 447.8 L3021.4 448.6 L3023.4 449.3 L3025.5 447.6 L3027.5 445.9 L3029.6 444.2 L3031.6 444.7 L3033.7 445.4 L3035.7 446.0 L3037.8 446.7 L3039.8 447.4 L3041.9 446.9 L3044.0 445.0 L3046.3 442.9 L3048.5 441.4 L3050.8 441.2 L3053.1 440.9 L3055.4 440.9 L3057.7 441.2 L3059.7 441.5 L3061.8 442.0 L3063.8 442.8 L3065.9 443.6 L3067.9 444.5 L3070.0 444.3 L3072.1 442.8 L3074.3 441.4 L3076.4 440.0 L3078.6 438.6 L3080.7 439.0 L3083.1 439.7 L3085.5 440.4 L3088.0 440.1 L3090.4 438.8 L3092.6 437.6 L3094.9 436.5 L3097.1 435.3 L3099.4 435.4 L3101.5 435.8 L3103.7 436.3 L3105.9 436.8 L3108.1 437.2 L3110.3 437.1 L3112.5 436.5 L3114.6 436.0 L3116.8 435.4 L3119.1 434.2 L3121.4 432.8 L3123.7 431.4 L3126.0 430.0 L3128.0 430.4 L3130.1 431.6 L3132.1 432.7 L3134.2 433.9 L3136.2 433.5 L3138.4 432.3 L3140.7 431.1 L3142.9 430.0 L3145.1 429.2 L3147.3 429.7 L3149.6 430.2 L3151.8 430.7 L3154.0 431.2 L3156.3 431.8 L3158.5 430.4 L3160.6 428.5 L3162.7 426.6 L3164.7 426.9 L3166.8 427.6 L3168.9 428.4 L3171.1 429.2 L3173.3 430.0 L3175.5 429.5 L3177.7 428.1 L3179.8 426.7 L3181.9 425.4 L3184.0 425.0" fill="none" stroke="#e60012" stroke-width="11.0" stroke-linejoin="round" stroke-linecap="round"/>
<ellipse cx="2235" cy="234" rx="46" ry="41" fill="none" stroke="#000" stroke-width="6.5" stroke-dasharray="19 12"/>
<rect x="2847" y="407" width="142" height="469" rx="6" ry="6" fill="none" stroke="#000" stroke-width="6.8" stroke-dasharray="19 13"/>
<path d="M2186 232 H2010" stroke="#000" stroke-width="9" fill="none"/>
<path d="M1961 232 L2016 217 L2016 247 Z" fill="#000"/>
<path d="M2989 692 H3130" stroke="#000" stroke-width="7.5" fill="none"/>
<path d="M3186 692 L3126 676 L3126 708 Z" fill="#000"/>
<text x="1913.5" y="65" font-size="62" text-anchor="end">75</text>
<text x="1913.5" y="266" font-size="62" text-anchor="end">70</text>
<text x="1913.5" y="467" font-size="62" text-anchor="end">65</text>
<text x="1913.5" y="668" font-size="62" text-anchor="end">60</text>
<text x="1913.5" y="868" font-size="62" text-anchor="end">55</text>
<text x="3222.5" y="66" font-size="62">1.0</text>
<text x="3222.5" y="249" font-size="62">0.8</text>
<text x="3222.5" y="429" font-size="62">0.6</text>
<text x="3222.5" y="609" font-size="62">0.4</text>
<text x="3222.5" y="789" font-size="62">0.2</text>
<text x="3222.5" y="969" font-size="62">0.0</text>
<text x="1956" y="1034" font-size="62" text-anchor="middle">0</text>
<text x="2477" y="1034" font-size="62" text-anchor="middle">100</text>
<text x="2987" y="1034" font-size="62" text-anchor="middle">200</text>
<text x="2570" y="1098" font-size="63" text-anchor="middle">Time/min</text>
<text transform="translate(1792 473) rotate(-90)" font-size="63" text-anchor="middle">Temperature/°C</text>
<text transform="translate(3377 467) rotate(-90)" font-size="63" text-anchor="middle">Peak hight</text>
<text x="1758.8" y="102" font-size="65">(b)</text>
<text transform="translate(2150 524.0) scale(0.98 1)" font-size="51">1 571 cm<tspan dy="-15.5" font-size="33">-1</tspan></text>
<text transform="translate(2150 682.0) scale(0.98 1)" font-size="51">1 716 cm<tspan dy="-15.5" font-size="33">-1</tspan></text>
<text transform="translate(2150 833.0) scale(0.98 1)" font-size="51">1 635 cm<tspan dy="-15.5" font-size="33">-1</tspan></text>
</g>
</svg>
</body></html>
